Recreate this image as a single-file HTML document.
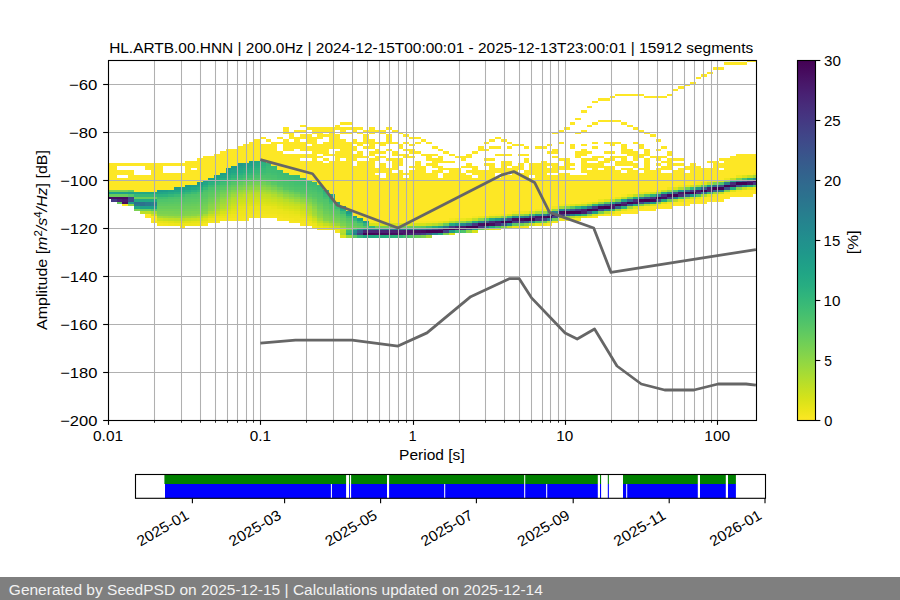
<!DOCTYPE html>
<html><head><meta charset="utf-8"><style>html,body{margin:0;padding:0;background:#fff;overflow:hidden}svg{display:block}</style></head><body>
<svg width="900" height="600" viewBox="0 0 900 600" font-family="&quot;Liberation Sans&quot;, sans-serif">
<rect width="900" height="600" fill="#fff"/>
<g shape-rendering="crispEdges"><path fill="#470d60" d="M108.0 196.8H110.9V199.2H108.0zM110.9 196.8H116.6V199.2H110.9zM116.6 196.8H122.3V199.2H116.6zM122.3 201.6H128.1V204.0H122.3zM122.3 196.8H128.1V199.2H122.3zM391.8 232.8H397.5V235.2H391.8zM477.8 223.2H483.5V225.6H477.8zM489.3 223.2H495.0V225.6H489.3zM661.2 196.8H667.0V199.2H661.2z"/><path fill="#67cc5c" d="M108.0 194.4H110.9V196.8H108.0zM110.9 194.4H116.6V196.8H110.9zM116.6 201.6H122.3V204.0H116.6zM116.6 194.4H122.3V196.8H116.6zM122.3 194.4H128.1V196.8H122.3zM128.1 189.6H133.8V192.0H128.1zM133.8 196.8H139.5V199.2H133.8zM139.5 208.8H145.3V211.2H139.5zM139.5 196.8H145.3V199.2H139.5zM145.3 208.8H151.0V211.2H145.3zM145.3 196.8H151.0V199.2H145.3zM151.0 196.8H156.7V199.2H151.0zM156.7 206.4H162.5V208.8H156.7zM162.5 206.4H168.2V208.8H162.5zM168.2 206.4H173.9V208.8H168.2zM173.9 206.4H179.7V208.8H173.9zM191.1 204.0H196.9V206.4H191.1zM265.7 182.4H271.4V184.8H265.7zM311.5 199.2H317.3V201.6H311.5zM317.3 204.0H323.0V206.4H317.3zM466.3 220.8H472.1V223.2H466.3z"/><path fill="#1fa188" d="M108.0 192.0H110.9V194.4H108.0zM110.9 192.0H116.6V194.4H110.9zM116.6 192.0H122.3V194.4H116.6zM122.3 192.0H128.1V194.4H122.3zM128.1 192.0H133.8V194.4H128.1zM139.5 206.4H145.3V208.8H139.5zM145.3 206.4H151.0V208.8H145.3zM151.0 206.4H156.7V208.8H151.0zM168.2 189.6H173.9V192.0H168.2z"/><path fill="#7ad151" d="M108.0 189.6H110.9V192.0H108.0zM110.9 189.6H116.6V192.0H110.9zM116.6 189.6H122.3V192.0H116.6zM122.3 189.6H128.1V192.0H122.3zM133.8 208.8H139.5V211.2H133.8zM156.7 211.2H162.5V213.6H156.7zM162.5 211.2H168.2V213.6H162.5zM168.2 211.2H173.9V213.6H168.2zM179.7 211.2H185.4V213.6H179.7zM208.3 201.6H214.1V204.0H208.3zM242.7 184.8H248.5V187.2H242.7zM420.5 235.2H426.2V237.6H420.5zM443.4 232.8H449.1V235.2H443.4z"/><path fill="#fde725" d="M108.0 163.2H110.9V189.6H108.0zM110.9 163.2H116.6V189.6H110.9zM116.6 177.6H122.3V189.6H116.6zM116.6 170.4H122.3V175.2H116.6zM116.6 163.2H122.3V165.6H116.6zM122.3 204.0H128.1V206.4H122.3zM122.3 177.6H128.1V189.6H122.3zM122.3 170.4H128.1V175.2H122.3zM122.3 163.2H128.1V165.6H122.3zM128.1 170.4H133.8V189.6H128.1zM128.1 163.2H133.8V165.6H128.1zM133.8 175.2H139.5V192.0H133.8zM133.8 163.2H139.5V165.6H133.8zM139.5 175.2H145.3V192.0H139.5zM139.5 163.2H145.3V165.6H139.5zM145.3 213.6H151.0V218.4H145.3zM145.3 175.2H151.0V192.0H145.3zM145.3 163.2H151.0V170.4H145.3zM151.0 216.0H156.7V220.8H151.0zM151.0 163.2H156.7V192.0H151.0zM156.7 163.2H162.5V189.6H156.7zM162.5 172.8H168.2V189.6H162.5zM162.5 163.2H168.2V165.6H162.5zM168.2 172.8H173.9V189.6H168.2zM168.2 163.2H173.9V165.6H168.2zM173.9 172.8H179.7V187.2H173.9zM173.9 163.2H179.7V165.6H173.9zM179.7 172.8H185.4V187.2H179.7zM179.7 163.2H185.4V165.6H179.7zM185.4 160.8H191.1V184.8H185.4zM191.1 170.4H196.9V184.8H191.1zM191.1 160.8H196.9V168.0H191.1zM196.9 158.4H202.6V182.4H196.9zM202.6 156.0H208.3V180.0H202.6zM208.3 156.0H214.1V177.6H208.3zM214.1 153.6H219.8V175.2H214.1zM219.8 151.2H225.5V172.8H219.8zM225.5 148.8H231.3V168.0H225.5zM231.3 148.8H237.0V165.6H231.3zM237.0 146.4H242.7V163.2H237.0zM242.7 144.0H248.5V163.2H242.7zM248.5 141.6H254.2V160.8H248.5zM254.2 139.2H259.9V160.8H254.2zM259.9 144.0H265.7V160.8H259.9zM259.9 136.8H265.7V139.2H259.9zM265.7 144.0H271.4V163.2H265.7zM265.7 139.2H271.4V141.6H265.7zM271.4 141.6H277.1V165.6H271.4zM277.1 151.2H282.9V170.4H277.1zM277.1 141.6H282.9V144.0H277.1zM277.1 136.8H282.9V139.2H277.1zM282.9 153.6H288.6V172.8H282.9zM282.9 139.2H288.6V151.2H282.9zM282.9 127.2H288.6V134.4H282.9zM288.6 153.6H294.3V175.2H288.6zM288.6 141.6H294.3V151.2H288.6zM288.6 132.0H294.3V139.2H288.6zM294.3 153.6H300.1V175.2H294.3zM294.3 136.8H300.1V148.8H294.3zM294.3 129.6H300.1V132.0H294.3zM300.1 160.8H305.8V177.6H300.1zM300.1 153.6H305.8V158.4H300.1zM300.1 141.6H305.8V151.2H300.1zM300.1 134.4H305.8V139.2H300.1zM300.1 129.6H305.8V132.0H300.1zM300.1 124.8H305.8V127.2H300.1zM305.8 160.8H311.5V180.0H305.8zM305.8 153.6H311.5V158.4H305.8zM305.8 146.4H311.5V151.2H305.8zM305.8 134.4H311.5V144.0H305.8zM305.8 127.2H311.5V129.6H305.8zM311.5 136.8H317.3V182.4H311.5zM311.5 127.2H317.3V134.4H311.5zM317.3 160.8H323.0V184.8H317.3zM317.3 156.0H323.0V158.4H317.3zM317.3 144.0H323.0V153.6H317.3zM317.3 127.2H323.0V139.2H317.3zM323.0 163.2H328.7V189.6H323.0zM323.0 158.4H328.7V160.8H323.0zM323.0 141.6H328.7V156.0H323.0zM323.0 134.4H328.7V136.8H323.0zM323.0 127.2H328.7V132.0H323.0zM328.7 160.8H334.5V194.4H328.7zM328.7 153.6H334.5V156.0H328.7zM328.7 127.2H334.5V148.8H328.7zM334.5 151.2H340.2V201.6H334.5zM334.5 134.4H340.2V148.8H334.5zM334.5 124.8H340.2V129.6H334.5zM340.2 160.8H345.9V206.4H340.2zM340.2 139.2H345.9V158.4H340.2zM340.2 127.2H345.9V134.4H340.2zM340.2 122.4H345.9V124.8H340.2zM345.9 141.6H351.7V211.2H345.9zM345.9 132.0H351.7V134.4H345.9zM345.9 127.2H351.7V129.6H345.9zM345.9 122.4H351.7V124.8H345.9zM351.7 165.6H357.4V216.0H351.7zM351.7 153.6H357.4V160.8H351.7zM351.7 146.4H357.4V151.2H351.7zM351.7 139.2H357.4V144.0H351.7zM351.7 127.2H357.4V132.0H351.7zM357.4 160.8H363.1V218.4H357.4zM357.4 151.2H363.1V158.4H357.4zM357.4 141.6H363.1V146.4H357.4zM357.4 132.0H363.1V134.4H357.4zM357.4 127.2H363.1V129.6H357.4zM363.1 160.8H368.9V220.8H363.1zM363.1 156.0H368.9V158.4H363.1zM363.1 146.4H368.9V148.8H363.1zM363.1 134.4H368.9V144.0H363.1zM363.1 129.6H368.9V132.0H363.1zM368.9 158.4H374.6V220.8H368.9zM368.9 151.2H374.6V156.0H368.9zM368.9 139.2H374.6V148.8H368.9zM368.9 127.2H374.6V134.4H368.9zM374.6 175.2H380.3V220.8H374.6zM374.6 168.0H380.3V172.8H374.6zM374.6 156.0H380.3V160.8H374.6zM374.6 148.8H380.3V153.6H374.6zM374.6 141.6H380.3V144.0H374.6zM374.6 129.6H380.3V132.0H374.6zM380.3 177.6H386.1V220.8H380.3zM380.3 163.2H386.1V172.8H380.3zM380.3 156.0H386.1V158.4H380.3zM380.3 151.2H386.1V153.6H380.3zM380.3 141.6H386.1V146.4H380.3zM380.3 129.6H386.1V134.4H380.3zM386.1 168.0H391.8V220.8H386.1zM386.1 158.4H391.8V160.8H386.1zM386.1 148.8H391.8V151.2H386.1zM386.1 134.4H391.8V144.0H386.1zM386.1 127.2H391.8V129.6H386.1zM391.8 172.8H397.5V223.2H391.8zM391.8 158.4H397.5V170.4H391.8zM391.8 151.2H397.5V156.0H391.8zM391.8 141.6H397.5V144.0H391.8zM391.8 129.6H397.5V132.0H391.8zM397.5 170.4H403.3V223.2H397.5zM397.5 158.4H403.3V165.6H397.5zM397.5 153.6H403.3V156.0H397.5zM397.5 144.0H403.3V148.8H397.5zM397.5 132.0H403.3V134.4H397.5zM403.3 177.6H409.0V223.2H403.3zM403.3 172.8H409.0V175.2H403.3zM403.3 153.6H409.0V158.4H403.3zM403.3 148.8H409.0V151.2H403.3zM403.3 141.6H409.0V144.0H403.3zM403.3 134.4H409.0V136.8H403.3zM409.0 170.4H414.7V223.2H409.0zM409.0 165.6H414.7V168.0H409.0zM409.0 156.0H414.7V158.4H409.0zM409.0 148.8H414.7V153.6H409.0zM409.0 144.0H414.7V146.4H409.0zM409.0 136.8H414.7V139.2H409.0zM414.7 160.8H420.5V220.8H414.7zM414.7 151.2H420.5V153.6H414.7zM414.7 141.6H420.5V144.0H414.7zM414.7 136.8H420.5V139.2H414.7zM420.5 165.6H426.2V220.8H420.5zM420.5 153.6H426.2V156.0H420.5zM420.5 139.2H426.2V141.6H420.5zM426.2 172.8H431.9V220.8H426.2zM426.2 163.2H431.9V165.6H426.2zM426.2 153.6H431.9V160.8H426.2zM426.2 141.6H431.9V144.0H426.2zM431.9 170.4H437.7V220.8H431.9zM431.9 158.4H437.7V168.0H431.9zM431.9 153.6H437.7V156.0H431.9zM431.9 146.4H437.7V148.8H431.9zM437.7 177.6H443.4V220.8H437.7zM437.7 165.6H443.4V172.8H437.7zM437.7 156.0H443.4V163.2H437.7zM437.7 148.8H443.4V151.2H437.7zM443.4 172.8H449.1V220.8H443.4zM443.4 168.0H449.1V170.4H443.4zM443.4 160.8H449.1V163.2H443.4zM443.4 151.2H449.1V153.6H443.4zM449.1 168.0H454.9V218.4H449.1zM449.1 160.8H454.9V163.2H449.1zM449.1 153.6H454.9V156.0H449.1zM454.9 168.0H460.6V218.4H454.9zM454.9 156.0H460.6V158.4H454.9zM460.6 172.8H466.3V218.4H460.6zM460.6 165.6H466.3V168.0H460.6zM460.6 156.0H466.3V160.8H460.6zM466.3 175.2H472.1V218.4H466.3zM466.3 170.4H472.1V172.8H466.3zM466.3 163.2H472.1V168.0H466.3zM466.3 153.6H472.1V158.4H466.3zM472.1 177.6H477.8V216.0H472.1zM472.1 165.6H477.8V175.2H472.1zM472.1 151.2H477.8V153.6H472.1zM477.8 170.4H483.5V216.0H477.8zM477.8 146.4H483.5V151.2H477.8zM483.5 170.4H489.3V216.0H483.5zM483.5 163.2H489.3V165.6H483.5zM483.5 158.4H489.3V160.8H483.5zM483.5 148.8H489.3V151.2H483.5zM483.5 141.6H489.3V144.0H483.5zM489.3 163.2H495.0V213.6H489.3zM489.3 158.4H495.0V160.8H489.3zM489.3 146.4H495.0V148.8H489.3zM489.3 139.2H495.0V141.6H489.3zM495.0 177.6H500.7V213.6H495.0zM495.0 168.0H500.7V172.8H495.0zM495.0 153.6H500.7V156.0H495.0zM495.0 146.4H500.7V148.8H495.0zM495.0 136.8H500.7V139.2H495.0zM500.7 160.8H506.5V213.6H500.7zM500.7 153.6H506.5V156.0H500.7zM500.7 139.2H506.5V141.6H500.7zM506.5 175.2H512.2V213.6H506.5zM506.5 168.0H512.2V172.8H506.5zM506.5 160.8H512.2V165.6H506.5zM506.5 153.6H512.2V156.0H506.5zM506.5 146.4H512.2V148.8H506.5zM506.5 141.6H512.2V144.0H506.5zM512.2 165.6H517.9V211.2H512.2zM512.2 144.0H517.9V146.4H512.2zM517.9 172.8H523.6V211.2H517.9zM517.9 163.2H523.6V170.4H517.9zM517.9 153.6H523.6V156.0H517.9zM517.9 144.0H523.6V146.4H517.9zM523.6 170.4H529.4V211.2H523.6zM523.6 158.4H529.4V163.2H523.6zM523.6 153.6H529.4V156.0H523.6zM523.6 146.4H529.4V148.8H523.6zM529.4 177.6H535.1V211.2H529.4zM529.4 163.2H535.1V175.2H529.4zM535.1 163.2H540.8V208.8H535.1zM535.1 146.4H540.8V148.8H535.1zM540.8 160.8H546.6V208.8H540.8zM540.8 146.4H546.6V148.8H540.8zM546.6 223.2H552.3V225.6H546.6zM546.6 175.2H552.3V208.8H546.6zM546.6 168.0H552.3V172.8H546.6zM546.6 163.2H552.3V165.6H546.6zM546.6 151.2H552.3V153.6H546.6zM546.6 144.0H552.3V146.4H546.6zM552.3 175.2H558.0V206.4H552.3zM552.3 163.2H558.0V172.8H552.3zM552.3 156.0H558.0V158.4H552.3zM552.3 148.8H558.0V153.6H552.3zM552.3 132.0H558.0V134.4H552.3zM558.0 172.8H563.8V204.0H558.0zM558.0 165.6H563.8V170.4H558.0zM558.0 158.4H563.8V160.8H558.0zM558.0 141.6H563.8V144.0H558.0zM558.0 129.6H563.8V132.0H558.0zM563.8 172.8H569.5V204.0H563.8zM563.8 158.4H569.5V170.4H563.8zM563.8 127.2H569.5V129.6H563.8zM569.5 218.4H575.2V220.8H569.5zM569.5 175.2H575.2V204.0H569.5zM569.5 168.0H575.2V170.4H569.5zM569.5 163.2H575.2V165.6H569.5zM569.5 144.0H575.2V148.8H569.5zM569.5 122.4H575.2V124.8H569.5zM575.2 218.4H581.0V220.8H575.2zM575.2 175.2H581.0V204.0H575.2zM575.2 151.2H581.0V158.4H575.2zM575.2 132.0H581.0V134.4H575.2zM575.2 117.6H581.0V120.0H575.2zM581.0 175.2H586.7V201.6H581.0zM581.0 158.4H586.7V172.8H581.0zM581.0 148.8H586.7V156.0H581.0zM581.0 144.0H586.7V146.4H581.0zM581.0 129.6H586.7V132.0H581.0zM581.0 110.4H586.7V112.8H581.0zM586.7 170.4H592.4V201.6H586.7zM586.7 163.2H592.4V168.0H586.7zM586.7 158.4H592.4V160.8H586.7zM586.7 151.2H592.4V153.6H586.7zM586.7 124.8H592.4V127.2H586.7zM586.7 105.6H592.4V108.0H586.7zM592.4 216.0H598.2V218.4H592.4zM592.4 163.2H598.2V201.6H592.4zM592.4 156.0H598.2V160.8H592.4zM592.4 146.4H598.2V148.8H592.4zM592.4 141.6H598.2V144.0H592.4zM592.4 122.4H598.2V124.8H592.4zM592.4 100.8H598.2V103.2H592.4zM598.2 170.4H603.9V199.2H598.2zM598.2 160.8H603.9V168.0H598.2zM598.2 156.0H603.9V158.4H598.2zM598.2 120.0H603.9V122.4H598.2zM598.2 98.4H603.9V100.8H598.2zM603.9 213.6H609.6V216.0H603.9zM603.9 165.6H609.6V199.2H603.9zM603.9 158.4H609.6V163.2H603.9zM603.9 151.2H609.6V153.6H603.9zM603.9 141.6H609.6V144.0H603.9zM603.9 120.0H609.6V122.4H603.9zM603.9 98.4H609.6V100.8H603.9zM609.6 213.6H615.4V216.0H609.6zM609.6 165.6H615.4V196.8H609.6zM609.6 156.0H615.4V160.8H609.6zM609.6 151.2H615.4V153.6H609.6zM609.6 141.6H615.4V146.4H609.6zM609.6 120.0H615.4V122.4H609.6zM609.6 96.0H615.4V98.4H609.6zM615.4 213.6H621.1V216.0H615.4zM615.4 170.4H621.1V196.8H615.4zM615.4 160.8H621.1V165.6H615.4zM615.4 156.0H621.1V158.4H615.4zM615.4 141.6H621.1V144.0H615.4zM615.4 120.0H621.1V122.4H615.4zM615.4 93.6H621.1V96.0H615.4zM621.1 211.2H626.8V213.6H621.1zM621.1 172.8H626.8V194.4H621.1zM621.1 168.0H626.8V170.4H621.1zM621.1 156.0H626.8V165.6H621.1zM621.1 144.0H626.8V153.6H621.1zM621.1 122.4H626.8V124.8H621.1zM621.1 93.6H626.8V96.0H621.1zM626.8 211.2H632.6V213.6H626.8zM626.8 168.0H632.6V194.4H626.8zM626.8 160.8H632.6V165.6H626.8zM626.8 148.8H632.6V156.0H626.8zM626.8 124.8H632.6V127.2H626.8zM626.8 93.6H632.6V96.0H626.8zM632.6 208.8H638.3V213.6H632.6zM632.6 170.4H638.3V194.4H632.6zM632.6 163.2H638.3V168.0H632.6zM632.6 151.2H638.3V160.8H632.6zM632.6 141.6H638.3V144.0H632.6zM632.6 127.2H638.3V129.6H632.6zM632.6 93.6H638.3V96.0H632.6zM638.3 208.8H644.0V211.2H638.3zM638.3 172.8H644.0V192.0H638.3zM638.3 168.0H644.0V170.4H638.3zM638.3 153.6H644.0V158.4H638.3zM638.3 144.0H644.0V148.8H638.3zM638.3 129.6H644.0V132.0H638.3zM638.3 93.6H644.0V96.0H638.3zM644.0 206.4H649.8V211.2H644.0zM644.0 158.4H649.8V192.0H644.0zM644.0 148.8H649.8V156.0H644.0zM644.0 132.0H649.8V134.4H644.0zM644.0 96.0H649.8V98.4H644.0zM649.8 206.4H655.5V211.2H649.8zM649.8 170.4H655.5V192.0H649.8zM649.8 156.0H655.5V158.4H649.8zM649.8 134.4H655.5V136.8H649.8zM649.8 96.0H655.5V98.4H649.8zM655.5 206.4H661.2V208.8H655.5zM655.5 168.0H661.2V189.6H655.5zM655.5 163.2H661.2V165.6H655.5zM655.5 156.0H661.2V160.8H655.5zM655.5 148.8H661.2V151.2H655.5zM655.5 139.2H661.2V141.6H655.5zM655.5 96.0H661.2V98.4H655.5zM661.2 204.0H667.0V208.8H661.2zM661.2 172.8H667.0V189.6H661.2zM661.2 165.6H667.0V170.4H661.2zM661.2 160.8H667.0V163.2H661.2zM661.2 156.0H667.0V158.4H661.2zM661.2 146.4H667.0V148.8H661.2zM661.2 96.0H667.0V98.4H661.2zM667.0 204.0H672.7V208.8H667.0zM667.0 172.8H672.7V187.2H667.0zM667.0 158.4H672.7V170.4H667.0zM667.0 151.2H672.7V156.0H667.0zM667.0 93.6H672.7V96.0H667.0zM672.7 201.6H678.4V206.4H672.7zM672.7 170.4H678.4V187.2H672.7zM672.7 163.2H678.4V165.6H672.7zM672.7 158.4H678.4V160.8H672.7zM672.7 88.8H678.4V91.2H672.7zM678.4 201.6H684.2V206.4H678.4zM678.4 168.0H684.2V184.8H678.4zM678.4 163.2H684.2V165.6H678.4zM678.4 158.4H684.2V160.8H678.4zM678.4 86.4H684.2V88.8H678.4zM684.2 201.6H689.9V206.4H684.2zM684.2 172.8H689.9V184.8H684.2zM684.2 165.6H689.9V170.4H684.2zM684.2 84.0H689.9V86.4H684.2zM689.9 199.2H695.6V204.0H689.9zM689.9 163.2H695.6V184.8H689.9zM689.9 81.6H695.6V84.0H689.9zM695.6 199.2H701.4V204.0H695.6zM695.6 165.6H701.4V182.4H695.6zM695.6 76.8H701.4V79.2H695.6zM701.4 196.8H707.1V204.0H701.4zM701.4 168.0H707.1V182.4H701.4zM701.4 74.4H707.1V76.8H701.4zM707.1 196.8H712.8V201.6H707.1zM707.1 168.0H712.8V180.0H707.1zM707.1 160.8H712.8V163.2H707.1zM707.1 72.0H712.8V74.4H707.1zM712.8 196.8H718.6V201.6H712.8zM712.8 160.8H718.6V180.0H712.8zM712.8 67.2H718.6V69.6H712.8zM718.6 194.4H724.3V201.6H718.6zM718.6 170.4H724.3V180.0H718.6zM718.6 163.2H724.3V168.0H718.6zM718.6 158.4H724.3V160.8H718.6zM718.6 67.2H724.3V69.6H718.6zM724.3 194.4H730.0V199.2H724.3zM724.3 158.4H730.0V177.6H724.3zM724.3 62.4H730.0V64.8H724.3zM730.0 192.0H735.8V196.8H730.0zM730.0 156.0H735.8V177.6H730.0zM730.0 62.4H735.8V64.8H730.0zM735.8 192.0H741.5V196.8H735.8zM735.8 153.6H741.5V175.2H735.8zM735.8 62.4H741.5V64.8H735.8zM741.5 189.6H747.2V196.8H741.5zM741.5 153.6H747.2V175.2H741.5zM741.5 62.4H747.2V64.8H741.5zM747.2 189.6H753.0V196.8H747.2zM747.2 153.6H753.0V175.2H747.2zM747.2 60.0H753.0V62.4H747.2zM753.0 189.6H756.0V194.4H753.0zM753.0 153.6H756.0V172.8H753.0zM753.0 60.0H756.0V62.4H753.0z"/><path fill="#443983" d="M110.9 199.2H116.6V201.6H110.9zM472.1 223.2H477.8V225.6H472.1zM512.2 220.8H517.9V223.2H512.2zM592.4 206.4H598.2V208.8H592.4zM649.8 196.8H655.5V199.2H649.8z"/><path fill="#482475" d="M116.6 199.2H122.3V201.6H116.6zM368.9 230.4H374.6V232.8H368.9zM609.6 204.0H615.4V206.4H609.6z"/><path fill="#481a6c" d="M122.3 199.2H128.1V201.6H122.3zM403.3 230.4H409.0V232.8H403.3zM495.0 220.8H500.7V223.2H495.0z"/><path fill="#90d743" d="M128.1 204.0H133.8V206.4H128.1zM196.9 213.6H202.6V216.0H196.9zM231.3 192.0H237.0V194.4H231.3zM237.0 189.6H242.7V192.0H237.0zM259.9 187.2H265.7V189.6H259.9zM282.9 194.4H288.6V196.8H282.9zM460.6 220.8H466.3V223.2H460.6zM466.3 230.4H472.1V232.8H466.3zM638.3 194.4H644.0V196.8H638.3z"/><path fill="#1f988b" d="M128.1 201.6H133.8V204.0H128.1zM225.5 168.0H231.3V170.4H225.5zM237.0 163.2H242.7V165.6H237.0zM363.1 220.8H368.9V223.2H363.1z"/><path fill="#3d4d8a" d="M128.1 199.2H133.8V201.6H128.1z"/><path fill="#414487" d="M128.1 196.8H133.8V199.2H128.1z"/><path fill="#54c568" d="M128.1 194.4H133.8V196.8H128.1zM151.0 208.8H156.7V211.2H151.0zM173.9 199.2H179.7V201.6H173.9zM179.7 199.2H185.4V201.6H179.7zM191.1 196.8H196.9V199.2H191.1zM231.3 182.4H237.0V184.8H231.3zM254.2 177.6H259.9V180.0H254.2zM259.9 177.6H265.7V180.0H259.9zM294.3 189.6H300.1V192.0H294.3zM311.5 194.4H317.3V196.8H311.5zM323.0 201.6H328.7V204.0H323.0zM328.7 206.4H334.5V208.8H328.7zM345.9 218.4H351.7V220.8H345.9zM357.4 223.2H363.1V225.6H357.4zM483.5 218.4H489.3V220.8H483.5z"/><path fill="#22a884" d="M133.8 206.4H139.5V208.8H133.8zM133.8 199.2H139.5V201.6H133.8zM133.8 192.0H139.5V194.4H133.8zM139.5 199.2H145.3V201.6H139.5zM139.5 192.0H145.3V194.4H139.5zM145.3 199.2H151.0V201.6H145.3zM145.3 192.0H151.0V194.4H145.3zM151.0 199.2H156.7V201.6H151.0zM151.0 192.0H156.7V194.4H151.0zM179.7 189.6H185.4V192.0H179.7zM191.1 187.2H196.9V189.6H191.1zM208.3 180.0H214.1V182.4H208.3z"/><path fill="#2a788e" d="M133.8 204.0H139.5V206.4H133.8zM145.3 201.6H151.0V206.4H145.3zM569.5 213.6H575.2V216.0H569.5z"/><path fill="#2d708e" d="M133.8 201.6H139.5V204.0H133.8zM139.5 201.6H145.3V206.4H139.5zM420.5 228.0H426.2V230.4H420.5z"/><path fill="#35b779" d="M133.8 194.4H139.5V196.8H133.8zM139.5 194.4H145.3V196.8H139.5zM145.3 194.4H151.0V196.8H145.3zM151.0 194.4H156.7V196.8H151.0zM185.4 192.0H191.1V194.4H185.4zM214.1 182.4H219.8V184.8H214.1zM237.0 175.2H242.7V177.6H237.0zM265.7 163.2H271.4V165.6H265.7zM357.4 220.8H363.1V223.2H357.4zM689.9 187.2H695.6V189.6H689.9z"/><path fill="#bddf26" d="M139.5 211.2H145.3V213.6H139.5zM145.3 211.2H151.0V213.6H145.3zM173.9 218.4H179.7V220.8H173.9zM242.7 194.4H248.5V196.8H242.7zM265.7 194.4H271.4V196.8H265.7zM288.6 201.6H294.3V204.0H288.6zM300.1 206.4H305.8V208.8H300.1zM317.3 220.8H323.0V223.2H317.3zM581.0 204.0H586.7V206.4H581.0zM603.9 211.2H609.6V213.6H603.9zM609.6 199.2H615.4V201.6H609.6zM718.6 192.0H724.3V194.4H718.6z"/><path fill="#f8e621" d="M151.0 220.8H156.7V223.2H151.0zM179.7 225.6H185.4V228.0H179.7zM202.6 223.2H208.3V225.6H202.6zM214.1 220.8H219.8V223.2H214.1zM242.7 218.4H248.5V220.8H242.7zM277.1 218.4H282.9V220.8H277.1zM300.1 223.2H305.8V225.6H300.1zM374.6 220.8H380.3V223.2H374.6zM380.3 220.8H386.1V223.2H380.3zM386.1 220.8H391.8V223.2H386.1zM414.7 220.8H420.5V223.2H414.7zM420.5 220.8H426.2V223.2H420.5zM489.3 213.6H495.0V216.0H489.3zM609.6 196.8H615.4V199.2H609.6zM615.4 211.2H621.1V213.6H615.4zM621.1 194.4H626.8V196.8H621.1zM626.8 208.8H632.6V211.2H626.8zM684.2 199.2H689.9V201.6H684.2z"/><path fill="#d2e21b" d="M151.0 213.6H156.7V216.0H151.0zM225.5 208.8H231.3V211.2H225.5zM237.0 201.6H242.7V204.0H237.0zM254.2 199.2H259.9V201.6H254.2zM259.9 199.2H265.7V201.6H259.9zM288.6 206.4H294.3V208.8H288.6zM575.2 204.0H581.0V206.4H575.2zM689.9 196.8H695.6V199.2H689.9zM689.9 184.8H695.6V187.2H689.9z"/><path fill="#a5db36" d="M151.0 211.2H156.7V213.6H151.0zM305.8 206.4H311.5V208.8H305.8zM311.5 213.6H317.3V216.0H311.5zM317.3 218.4H323.0V220.8H317.3zM426.2 235.2H431.9V237.6H426.2zM558.0 206.4H563.8V208.8H558.0z"/><path fill="#27808e" d="M151.0 201.6H156.7V206.4H151.0zM403.3 228.0H409.0V230.4H403.3zM598.2 204.0H603.9V206.4H598.2z"/><path fill="#f6e620" d="M156.7 223.2H162.5V225.6H156.7zM225.5 218.4H231.3V220.8H225.5zM231.3 218.4H237.0V220.8H231.3zM237.0 218.4H242.7V220.8H237.0zM248.5 216.0H254.2V218.4H248.5zM254.2 216.0H259.9V218.4H254.2zM259.9 216.0H265.7V218.4H259.9zM265.7 216.0H271.4V218.4H265.7zM271.4 216.0H277.1V218.4H271.4zM282.9 218.4H288.6V220.8H282.9zM288.6 220.8H294.3V223.2H288.6zM294.3 220.8H300.1V223.2H294.3zM334.5 230.4H340.2V232.8H334.5zM368.9 220.8H374.6V223.2H368.9zM426.2 220.8H431.9V223.2H426.2zM472.1 216.0H477.8V218.4H472.1zM495.0 213.6H500.7V216.0H495.0zM523.6 225.6H529.4V228.0H523.6zM535.1 208.8H540.8V211.2H535.1zM563.8 218.4H569.5V220.8H563.8zM581.0 201.6H586.7V204.0H581.0zM586.7 216.0H592.4V218.4H586.7zM678.4 184.8H684.2V187.2H678.4zM707.1 180.0H712.8V182.4H707.1zM712.8 194.4H718.6V196.8H712.8zM735.8 189.6H741.5V192.0H735.8z"/><path fill="#eae51a" d="M156.7 220.8H162.5V223.2H156.7zM225.5 213.6H231.3V216.0H225.5zM237.0 208.8H242.7V211.2H237.0zM248.5 206.4H254.2V208.8H248.5zM254.2 206.4H259.9V208.8H254.2zM259.9 206.4H265.7V208.8H259.9zM265.7 206.4H271.4V208.8H265.7zM277.1 208.8H282.9V211.2H277.1zM282.9 211.2H288.6V213.6H282.9zM294.3 213.6H300.1V216.0H294.3zM317.3 225.6H323.0V228.0H317.3zM495.0 228.0H500.7V230.4H495.0zM615.4 196.8H621.1V199.2H615.4zM684.2 184.8H689.9V187.2H684.2zM712.8 180.0H718.6V182.4H712.8z"/><path fill="#cde11d" d="M156.7 218.4H162.5V220.8H156.7zM196.9 218.4H202.6V220.8H196.9zM242.7 199.2H248.5V201.6H242.7zM277.1 201.6H282.9V204.0H277.1zM282.9 204.0H288.6V206.4H282.9zM294.3 206.4H300.1V208.8H294.3zM311.5 218.4H317.3V220.8H311.5zM529.4 223.2H535.1V225.6H529.4z"/><path fill="#a8db34" d="M156.7 216.0H162.5V218.4H156.7zM191.1 216.0H196.9V218.4H191.1zM202.6 213.6H208.3V216.0H202.6zM219.8 204.0H225.5V206.4H219.8zM225.5 199.2H231.3V201.6H225.5z"/><path fill="#84d44b" d="M156.7 213.6H162.5V216.0H156.7zM162.5 213.6H168.2V216.0H162.5zM185.4 213.6H191.1V216.0H185.4zM208.3 204.0H214.1V206.4H208.3zM254.2 184.8H259.9V187.2H254.2zM288.6 194.4H294.3V196.8H288.6zM323.0 218.4H328.7V220.8H323.0zM563.8 206.4H569.5V208.8H563.8zM586.7 204.0H592.4V206.4H586.7z"/><path fill="#70cf57" d="M156.7 208.8H162.5V211.2H156.7zM162.5 208.8H168.2V211.2H162.5zM168.2 208.8H173.9V211.2H168.2zM173.9 208.8H179.7V211.2H173.9zM179.7 208.8H185.4V211.2H179.7zM196.9 206.4H202.6V208.8H196.9zM202.6 204.0H208.3V206.4H202.6zM208.3 199.2H214.1V201.6H208.3zM219.8 192.0H225.5V194.4H219.8zM225.5 189.6H231.3V192.0H225.5zM231.3 187.2H237.0V189.6H231.3zM237.0 184.8H242.7V187.2H237.0zM259.9 182.4H265.7V184.8H259.9zM288.6 192.0H294.3V194.4H288.6zM311.5 201.6H317.3V204.0H311.5zM340.2 220.8H345.9V223.2H340.2zM386.1 225.6H391.8V228.0H386.1zM391.8 225.6H397.5V228.0H391.8z"/><path fill="#5ec962" d="M156.7 204.0H162.5V206.4H156.7zM162.5 204.0H168.2V206.4H162.5zM185.4 201.6H191.1V204.0H185.4zM288.6 189.6H294.3V192.0H288.6zM317.3 201.6H323.0V204.0H317.3zM323.0 206.4H328.7V208.8H323.0zM345.9 220.8H351.7V223.2H345.9zM351.7 223.2H357.4V225.6H351.7zM512.2 223.2H517.9V225.6H512.2zM569.5 206.4H575.2V208.8H569.5zM701.4 184.8H707.1V187.2H701.4z"/><path fill="#58c765" d="M156.7 201.6H162.5V204.0H156.7zM162.5 201.6H168.2V204.0H162.5zM168.2 201.6H173.9V204.0H168.2zM185.4 199.2H191.1V201.6H185.4zM219.8 187.2H225.5V189.6H219.8zM225.5 184.8H231.3V187.2H225.5zM265.7 180.0H271.4V182.4H265.7zM277.1 184.8H282.9V187.2H277.1zM282.9 187.2H288.6V189.6H282.9zM300.1 192.0H305.8V194.4H300.1zM323.0 204.0H328.7V206.4H323.0zM334.5 211.2H340.2V213.6H334.5zM420.5 225.6H426.2V228.0H420.5zM644.0 194.4H649.8V196.8H644.0z"/><path fill="#50c46a" d="M156.7 199.2H162.5V201.6H156.7zM162.5 199.2H168.2V201.6H162.5zM196.9 194.4H202.6V196.8H196.9zM214.1 187.2H219.8V189.6H214.1zM237.0 180.0H242.7V182.4H237.0zM248.5 177.6H254.2V180.0H248.5zM265.7 177.6H271.4V180.0H265.7zM271.4 180.0H277.1V182.4H271.4zM277.1 182.4H282.9V184.8H277.1zM282.9 184.8H288.6V187.2H282.9zM300.1 189.6H305.8V192.0H300.1zM311.5 192.0H317.3V194.4H311.5zM323.0 199.2H328.7V201.6H323.0zM328.7 204.0H334.5V206.4H328.7zM334.5 208.8H340.2V211.2H334.5zM603.9 201.6H609.6V204.0H603.9zM695.6 194.4H701.4V196.8H695.6zM718.6 182.4H724.3V184.8H718.6z"/><path fill="#42be71" d="M156.7 196.8H162.5V199.2H156.7zM248.5 175.2H254.2V177.6H248.5zM259.9 172.8H265.7V175.2H259.9zM271.4 172.8H277.1V175.2H271.4zM277.1 175.2H282.9V177.6H277.1zM282.9 177.6H288.6V180.0H282.9zM288.6 180.0H294.3V182.4H288.6zM305.8 184.8H311.5V187.2H305.8zM317.3 189.6H323.0V192.0H317.3zM345.9 216.0H351.7V218.4H345.9z"/><path fill="#2db27d" d="M156.7 194.4H162.5V196.8H156.7zM191.1 189.6H196.9V192.0H191.1zM248.5 170.4H254.2V172.8H248.5zM259.9 163.2H265.7V165.6H259.9zM621.1 206.4H626.8V208.8H621.1z"/><path fill="#21a585" d="M156.7 192.0H162.5V194.4H156.7zM231.3 170.4H237.0V172.8H231.3zM351.7 216.0H357.4V218.4H351.7z"/><path fill="#1f9a8a" d="M156.7 189.6H162.5V192.0H156.7zM173.9 187.2H179.7V189.6H173.9zM185.4 184.8H191.1V187.2H185.4zM196.9 182.4H202.6V184.8H196.9z"/><path fill="#f4e61e" d="M162.5 223.2H168.2V225.6H162.5zM208.3 220.8H214.1V223.2H208.3zM219.8 218.4H225.5V220.8H219.8zM237.0 216.0H242.7V218.4H237.0zM242.7 216.0H248.5V218.4H242.7zM248.5 213.6H254.2V216.0H248.5zM254.2 213.6H259.9V216.0H254.2zM259.9 213.6H265.7V216.0H259.9zM265.7 213.6H271.4V216.0H265.7zM271.4 213.6H277.1V216.0H271.4zM277.1 216.0H282.9V218.4H277.1zM288.6 218.4H294.3V220.8H288.6zM300.1 220.8H305.8V223.2H300.1zM305.8 223.2H311.5V225.6H305.8zM311.5 225.6H317.3V228.0H311.5zM431.9 220.8H437.7V223.2H431.9zM449.1 218.4H454.9V220.8H449.1zM512.2 211.2H517.9V213.6H512.2zM552.3 220.8H558.0V223.2H552.3zM558.0 204.0H563.8V206.4H558.0zM598.2 213.6H603.9V216.0H598.2zM638.3 206.4H644.0V208.8H638.3zM655.5 204.0H661.2V206.4H655.5zM695.6 182.4H701.4V184.8H695.6zM724.3 192.0H730.0V194.4H724.3zM753.0 172.8H756.0V175.2H753.0z"/><path fill="#e7e419" d="M162.5 220.8H168.2V223.2H162.5zM196.9 220.8H202.6V223.2H196.9zM214.1 216.0H219.8V218.4H214.1zM231.3 211.2H237.0V213.6H231.3zM242.7 206.4H248.5V208.8H242.7zM271.4 206.4H277.1V208.8H271.4zM288.6 211.2H294.3V213.6H288.6zM300.1 216.0H305.8V218.4H300.1zM334.5 228.0H340.2V230.4H334.5zM626.8 194.4H632.6V196.8H626.8zM707.1 194.4H712.8V196.8H707.1z"/><path fill="#c5e021" d="M162.5 218.4H168.2V220.8H162.5zM202.6 216.0H208.3V218.4H202.6zM208.3 213.6H214.1V216.0H208.3zM225.5 206.4H231.3V208.8H225.5zM242.7 196.8H248.5V199.2H242.7zM265.7 196.8H271.4V199.2H265.7zM282.9 201.6H288.6V204.0H282.9zM305.8 213.6H311.5V216.0H305.8zM334.5 225.6H340.2V228.0H334.5zM506.5 225.6H512.2V228.0H506.5zM632.6 194.4H638.3V196.8H632.6zM730.0 177.6H735.8V180.0H730.0zM747.2 175.2H753.0V177.6H747.2z"/><path fill="#a0da39" d="M162.5 216.0H168.2V218.4H162.5zM185.4 216.0H191.1V218.4H185.4zM231.3 194.4H237.0V196.8H231.3zM248.5 189.6H254.2V192.0H248.5zM271.4 192.0H277.1V194.4H271.4zM300.1 201.6H305.8V204.0H300.1zM437.7 223.2H443.4V225.6H437.7zM626.8 206.4H632.6V208.8H626.8z"/><path fill="#44bf70" d="M162.5 196.8H168.2V199.2H162.5zM294.3 182.4H300.1V184.8H294.3zM311.5 187.2H317.3V189.6H311.5zM323.0 196.8H328.7V199.2H323.0zM403.3 235.2H409.0V237.6H403.3z"/><path fill="#2eb37c" d="M162.5 194.4H168.2V196.8H162.5zM179.7 192.0H185.4V194.4H179.7zM231.3 175.2H237.0V177.6H231.3zM345.9 232.8H351.7V235.2H345.9z"/><path fill="#22a785" d="M162.5 192.0H168.2V194.4H162.5zM214.1 177.6H219.8V180.0H214.1zM248.5 165.6H254.2V168.0H248.5zM254.2 160.8H259.9V163.2H254.2z"/><path fill="#1e9c89" d="M162.5 189.6H168.2V192.0H162.5zM248.5 160.8H254.2V163.2H248.5zM345.9 211.2H351.7V213.6H345.9zM437.7 225.6H443.4V228.0H437.7z"/><path fill="#f1e51d" d="M168.2 223.2H173.9V225.6H168.2zM196.9 223.2H202.6V225.6H196.9zM231.3 216.0H237.0V218.4H231.3zM237.0 213.6H242.7V216.0H237.0zM242.7 213.6H248.5V216.0H242.7zM254.2 211.2H259.9V213.6H254.2zM259.9 211.2H265.7V213.6H259.9zM277.1 213.6H282.9V216.0H277.1zM282.9 216.0H288.6V218.4H282.9zM294.3 218.4H300.1V220.8H294.3zM317.3 228.0H323.0V230.4H317.3zM517.9 225.6H523.6V228.0H517.9zM517.9 211.2H523.6V213.6H517.9zM540.8 223.2H546.6V225.6H540.8zM540.8 208.8H546.6V211.2H540.8zM552.3 206.4H558.0V208.8H552.3zM667.0 201.6H672.7V204.0H667.0zM667.0 187.2H672.7V189.6H667.0z"/><path fill="#e2e418" d="M168.2 220.8H173.9V223.2H168.2zM219.8 213.6H225.5V216.0H219.8zM254.2 204.0H259.9V206.4H254.2zM259.9 204.0H265.7V206.4H259.9zM282.9 208.8H288.6V211.2H282.9zM294.3 211.2H300.1V213.6H294.3zM305.8 218.4H311.5V220.8H305.8zM323.0 225.6H328.7V228.0H323.0zM466.3 218.4H472.1V220.8H466.3zM569.5 204.0H575.2V206.4H569.5zM621.1 208.8H626.8V211.2H621.1zM644.0 192.0H649.8V194.4H644.0zM701.4 182.4H707.1V184.8H701.4z"/><path fill="#c0df25" d="M168.2 218.4H173.9V220.8H168.2zM231.3 201.6H237.0V204.0H231.3zM237.0 196.8H242.7V199.2H237.0zM248.5 194.4H254.2V196.8H248.5zM254.2 194.4H259.9V196.8H254.2zM259.9 194.4H265.7V196.8H259.9zM271.4 196.8H277.1V199.2H271.4zM472.1 218.4H477.8V220.8H472.1zM621.1 196.8H626.8V199.2H621.1z"/><path fill="#9dd93b" d="M168.2 216.0H173.9V218.4H168.2zM214.1 206.4H219.8V208.8H214.1zM219.8 201.6H225.5V204.0H219.8zM294.3 199.2H300.1V201.6H294.3zM311.5 211.2H317.3V213.6H311.5zM684.2 196.8H689.9V199.2H684.2z"/><path fill="#81d34d" d="M168.2 213.6H173.9V216.0H168.2zM173.9 213.6H179.7V216.0H173.9zM179.7 213.6H185.4V216.0H179.7zM214.1 199.2H219.8V201.6H214.1zM259.9 184.8H265.7V187.2H259.9zM317.3 211.2H323.0V213.6H317.3zM345.9 228.0H351.7V230.4H345.9zM500.7 225.6H506.5V228.0H500.7zM523.6 213.6H529.4V216.0H523.6zM724.3 189.6H730.0V192.0H724.3zM735.8 177.6H741.5V180.0H735.8z"/><path fill="#60ca60" d="M168.2 204.0H173.9V206.4H168.2zM173.9 204.0H179.7V206.4H173.9zM191.1 201.6H196.9V204.0H191.1zM208.3 194.4H214.1V196.8H208.3zM237.0 182.4H242.7V184.8H237.0zM248.5 180.0H254.2V182.4H248.5zM334.5 213.6H340.2V216.0H334.5zM414.7 225.6H420.5V228.0H414.7z"/><path fill="#52c569" d="M168.2 199.2H173.9V201.6H168.2zM185.4 196.8H191.1V199.2H185.4zM202.6 192.0H208.3V194.4H202.6zM208.3 189.6H214.1V192.0H208.3zM288.6 187.2H294.3V189.6H288.6zM305.8 192.0H311.5V194.4H305.8zM317.3 196.8H323.0V199.2H317.3zM340.2 213.6H345.9V216.0H340.2zM351.7 220.8H357.4V223.2H351.7zM546.6 211.2H552.3V213.6H546.6zM672.7 189.6H678.4V192.0H672.7z"/><path fill="#4ac16d" d="M168.2 196.8H173.9V199.2H168.2zM185.4 194.4H191.1V196.8H185.4zM202.6 189.6H208.3V192.0H202.6zM208.3 187.2H214.1V189.6H208.3zM225.5 182.4H231.3V184.8H225.5zM254.2 175.2H259.9V177.6H254.2zM265.7 175.2H271.4V177.6H265.7zM311.5 189.6H317.3V192.0H311.5zM535.1 220.8H540.8V223.2H535.1zM678.4 196.8H684.2V199.2H678.4zM741.5 177.6H747.2V180.0H741.5z"/><path fill="#34b679" d="M168.2 194.4H173.9V196.8H168.2zM196.9 189.6H202.6V192.0H196.9zM357.4 235.2H363.1V237.6H357.4zM397.5 235.2H403.3V237.6H397.5zM581.0 213.6H586.7V216.0H581.0z"/><path fill="#25ab82" d="M168.2 192.0H173.9V194.4H168.2zM254.2 163.2H259.9V165.6H254.2zM632.6 196.8H638.3V199.2H632.6zM730.0 180.0H735.8V182.4H730.0z"/><path fill="#efe51c" d="M173.9 223.2H179.7V225.6H173.9zM185.4 223.2H191.1V225.6H185.4zM191.1 223.2H196.9V225.6H191.1zM214.1 218.4H219.8V220.8H214.1zM225.5 216.0H231.3V218.4H225.5zM231.3 213.6H237.0V216.0H231.3zM237.0 211.2H242.7V213.6H237.0zM242.7 211.2H248.5V213.6H242.7zM248.5 211.2H254.2V213.6H248.5zM265.7 211.2H271.4V213.6H265.7zM271.4 211.2H277.1V213.6H271.4zM282.9 213.6H288.6V216.0H282.9zM288.6 216.0H294.3V218.4H288.6zM294.3 216.0H300.1V218.4H294.3zM300.1 218.4H305.8V220.8H300.1zM305.8 220.8H311.5V223.2H305.8zM323.0 228.0H328.7V230.4H323.0zM454.9 218.4H460.6V220.8H454.9zM500.7 213.6H506.5V216.0H500.7zM512.2 225.6H517.9V228.0H512.2zM558.0 218.4H563.8V220.8H558.0zM598.2 199.2H603.9V201.6H598.2zM638.3 192.0H644.0V194.4H638.3zM655.5 189.6H661.2V192.0H655.5zM724.3 177.6H730.0V180.0H724.3zM753.0 187.2H756.0V189.6H753.0z"/><path fill="#dae319" d="M173.9 220.8H179.7V223.2H173.9zM179.7 220.8H185.4V223.2H179.7zM208.3 216.0H214.1V218.4H208.3zM237.0 204.0H242.7V206.4H237.0zM254.2 201.6H259.9V204.0H254.2zM259.9 201.6H265.7V204.0H259.9zM340.2 235.2H345.9V237.6H340.2zM386.1 223.2H391.8V225.6H386.1zM391.8 223.2H397.5V225.6H391.8zM403.3 223.2H409.0V225.6H403.3zM506.5 213.6H512.2V216.0H506.5zM661.2 201.6H667.0V204.0H661.2z"/><path fill="#98d83e" d="M173.9 216.0H179.7V218.4H173.9zM334.5 223.2H340.2V225.6H334.5zM345.9 235.2H351.7V237.6H345.9zM667.0 189.6H672.7V192.0H667.0zM712.8 192.0H718.6V194.4H712.8z"/><path fill="#77d153" d="M173.9 211.2H179.7V213.6H173.9zM196.9 208.8H202.6V211.2H196.9zM202.6 206.4H208.3V208.8H202.6zM214.1 196.8H219.8V199.2H214.1zM265.7 184.8H271.4V187.2H265.7zM294.3 194.4H300.1V196.8H294.3zM305.8 199.2H311.5V201.6H305.8zM317.3 208.8H323.0V211.2H317.3zM345.9 225.6H351.7V228.0H345.9zM638.3 204.0H644.0V206.4H638.3zM712.8 182.4H718.6V184.8H712.8z"/><path fill="#5ac864" d="M173.9 201.6H179.7V204.0H173.9zM191.1 199.2H196.9V201.6H191.1zM208.3 192.0H214.1V194.4H208.3zM214.1 189.6H219.8V192.0H214.1zM242.7 180.0H248.5V182.4H242.7zM271.4 182.4H277.1V184.8H271.4zM340.2 216.0H345.9V218.4H340.2zM558.0 216.0H563.8V218.4H558.0z"/><path fill="#4cc26c" d="M173.9 196.8H179.7V199.2H173.9zM242.7 177.6H248.5V180.0H242.7zM259.9 175.2H265.7V177.6H259.9zM271.4 177.6H277.1V180.0H271.4zM277.1 180.0H282.9V182.4H277.1zM282.9 182.4H288.6V184.8H282.9zM288.6 184.8H294.3V187.2H288.6zM300.1 187.2H305.8V189.6H300.1z"/><path fill="#3aba76" d="M173.9 194.4H179.7V196.8H173.9zM208.3 184.8H214.1V187.2H208.3zM231.3 177.6H237.0V180.0H231.3zM265.7 165.6H271.4V168.0H265.7zM282.9 172.8H288.6V175.2H282.9zM300.1 177.6H305.8V180.0H300.1zM305.8 180.0H311.5V182.4H305.8zM317.3 184.8H323.0V187.2H317.3zM323.0 194.4H328.7V196.8H323.0zM454.9 230.4H460.6V232.8H454.9z"/><path fill="#28ae80" d="M173.9 192.0H179.7V194.4H173.9zM219.8 177.6H225.5V180.0H219.8zM259.9 160.8H265.7V163.2H259.9zM380.3 235.2H386.1V237.6H380.3zM431.9 225.6H437.7V228.0H431.9z"/><path fill="#20a486" d="M173.9 189.6H179.7V192.0H173.9zM237.0 168.0H242.7V170.4H237.0z"/><path fill="#ece51b" d="M179.7 223.2H185.4V225.6H179.7zM202.6 220.8H208.3V223.2H202.6zM208.3 218.4H214.1V220.8H208.3zM219.8 216.0H225.5V218.4H219.8zM242.7 208.8H248.5V211.2H242.7zM248.5 208.8H254.2V211.2H248.5zM254.2 208.8H259.9V211.2H254.2zM259.9 208.8H265.7V211.2H259.9zM265.7 208.8H271.4V211.2H265.7zM271.4 208.8H277.1V211.2H271.4zM277.1 211.2H282.9V213.6H277.1zM288.6 213.6H294.3V216.0H288.6zM311.5 223.2H317.3V225.6H311.5zM328.7 228.0H334.5V230.4H328.7zM437.7 220.8H443.4V223.2H437.7zM460.6 218.4H466.3V220.8H460.6zM477.8 216.0H483.5V218.4H477.8zM523.6 211.2H529.4V213.6H523.6zM535.1 223.2H540.8V225.6H535.1zM563.8 204.0H569.5V206.4H563.8zM586.7 201.6H592.4V204.0H586.7zM678.4 199.2H684.2V201.6H678.4zM695.6 196.8H701.4V199.2H695.6zM735.8 175.2H741.5V177.6H735.8z"/><path fill="#bade28" d="M179.7 218.4H185.4V220.8H179.7zM546.6 220.8H552.3V223.2H546.6zM672.7 199.2H678.4V201.6H672.7z"/><path fill="#9bd93c" d="M179.7 216.0H185.4V218.4H179.7zM225.5 196.8H231.3V199.2H225.5zM242.7 189.6H248.5V192.0H242.7zM265.7 189.6H271.4V192.0H265.7zM340.2 225.6H345.9V228.0H340.2zM454.9 220.8H460.6V223.2H454.9zM517.9 213.6H523.6V216.0H517.9zM540.8 211.2H546.6V213.6H540.8zM615.4 208.8H621.1V211.2H615.4z"/><path fill="#69cd5b" d="M179.7 206.4H185.4V208.8H179.7zM196.9 204.0H202.6V206.4H196.9zM202.6 201.6H208.3V204.0H202.6zM208.3 196.8H214.1V199.2H208.3zM242.7 182.4H248.5V184.8H242.7zM300.1 194.4H305.8V196.8H300.1zM305.8 196.8H311.5V199.2H305.8zM334.5 216.0H340.2V218.4H334.5zM345.9 223.2H351.7V225.6H345.9zM414.7 235.2H420.5V237.6H414.7zM443.4 223.2H449.1V225.6H443.4zM477.8 228.0H483.5V230.4H477.8zM540.8 220.8H546.6V223.2H540.8z"/><path fill="#63cb5f" d="M179.7 204.0H185.4V206.4H179.7zM196.9 201.6H202.6V204.0H196.9zM202.6 199.2H208.3V201.6H202.6zM214.1 192.0H219.8V194.4H214.1zM231.3 184.8H237.0V187.2H231.3zM259.9 180.0H265.7V182.4H259.9zM328.7 211.2H334.5V213.6H328.7zM357.4 225.6H363.1V228.0H357.4z"/><path fill="#5cc863" d="M179.7 201.6H185.4V204.0H179.7zM196.9 199.2H202.6V201.6H196.9zM202.6 196.8H208.3V199.2H202.6zM305.8 194.4H311.5V196.8H305.8zM311.5 196.8H317.3V199.2H311.5zM328.7 208.8H334.5V211.2H328.7zM351.7 235.2H357.4V237.6H351.7zM753.0 184.8H756.0V187.2H753.0z"/><path fill="#4ec36b" d="M179.7 196.8H185.4V199.2H179.7zM191.1 194.4H196.9V196.8H191.1zM219.8 184.8H225.5V187.2H219.8zM294.3 187.2H300.1V189.6H294.3zM305.8 189.6H311.5V192.0H305.8zM317.3 194.4H323.0V196.8H317.3zM460.6 230.4H466.3V232.8H460.6z"/><path fill="#40bd72" d="M179.7 194.4H185.4V196.8H179.7zM219.8 182.4H225.5V184.8H219.8zM237.0 177.6H242.7V180.0H237.0zM265.7 170.4H271.4V172.8H265.7zM300.1 182.4H305.8V184.8H300.1zM311.5 184.8H317.3V187.2H311.5zM328.7 201.6H334.5V204.0H328.7zM426.2 225.6H431.9V228.0H426.2z"/><path fill="#1f9f88" d="M179.7 187.2H185.4V189.6H179.7zM191.1 184.8H196.9V187.2H191.1zM219.8 172.8H225.5V175.2H219.8zM237.0 165.6H242.7V168.0H237.0zM357.4 228.0H363.1V230.4H357.4zM357.4 218.4H363.1V220.8H357.4z"/><path fill="#dfe318" d="M185.4 220.8H191.1V223.2H185.4zM202.6 218.4H208.3V220.8H202.6zM225.5 211.2H231.3V213.6H225.5zM231.3 208.8H237.0V211.2H231.3zM242.7 204.0H248.5V206.4H242.7zM248.5 204.0H254.2V206.4H248.5zM265.7 204.0H271.4V206.4H265.7zM277.1 206.4H282.9V208.8H277.1zM300.1 213.6H305.8V216.0H300.1zM546.6 208.8H552.3V211.2H546.6zM603.9 199.2H609.6V201.6H603.9zM672.7 187.2H678.4V189.6H672.7zM718.6 180.0H724.3V182.4H718.6zM747.2 187.2H753.0V189.6H747.2z"/><path fill="#c2df23" d="M185.4 218.4H191.1V220.8H185.4zM214.1 211.2H219.8V213.6H214.1zM219.8 208.8H225.5V211.2H219.8zM277.1 199.2H282.9V201.6H277.1zM294.3 204.0H300.1V206.4H294.3zM323.0 223.2H328.7V225.6H323.0zM489.3 216.0H495.0V218.4H489.3zM741.5 187.2H747.2V189.6H741.5z"/><path fill="#7cd250" d="M185.4 211.2H191.1V213.6H185.4zM219.8 194.4H225.5V196.8H219.8zM271.4 187.2H277.1V189.6H271.4zM277.1 189.6H282.9V192.0H277.1zM282.9 192.0H288.6V194.4H282.9zM300.1 196.8H305.8V199.2H300.1zM311.5 204.0H317.3V206.4H311.5zM323.0 216.0H328.7V218.4H323.0zM328.7 218.4H334.5V220.8H328.7zM340.2 223.2H345.9V225.6H340.2z"/><path fill="#73d056" d="M185.4 208.8H191.1V211.2H185.4zM254.2 182.4H259.9V184.8H254.2zM334.5 218.4H340.2V220.8H334.5zM397.5 225.6H403.3V228.0H397.5zM552.3 218.4H558.0V220.8H552.3zM615.4 199.2H621.1V201.6H615.4zM684.2 187.2H689.9V189.6H684.2z"/><path fill="#6ccd5a" d="M185.4 206.4H191.1V208.8H185.4zM214.1 194.4H219.8V196.8H214.1zM271.4 184.8H277.1V187.2H271.4zM277.1 187.2H282.9V189.6H277.1zM282.9 189.6H288.6V192.0H282.9zM323.0 211.2H328.7V213.6H323.0zM328.7 213.6H334.5V216.0H328.7zM403.3 225.6H409.0V228.0H403.3zM517.9 223.2H523.6V225.6H517.9z"/><path fill="#65cb5e" d="M185.4 204.0H191.1V206.4H185.4zM219.8 189.6H225.5V192.0H219.8zM225.5 187.2H231.3V189.6H225.5zM254.2 180.0H259.9V182.4H254.2zM294.3 192.0H300.1V194.4H294.3zM323.0 208.8H328.7V211.2H323.0zM340.2 218.4H345.9V220.8H340.2zM409.0 225.6H414.7V228.0H409.0z"/><path fill="#26ad81" d="M185.4 189.6H191.1V192.0H185.4zM196.9 187.2H202.6V189.6H196.9zM225.5 175.2H231.3V177.6H225.5zM248.5 168.0H254.2V170.4H248.5zM340.2 208.8H345.9V211.2H340.2zM345.9 213.6H351.7V216.0H345.9z"/><path fill="#20a386" d="M185.4 187.2H191.1V189.6H185.4zM196.9 184.8H202.6V187.2H196.9zM242.7 165.6H248.5V168.0H242.7zM334.5 201.6H340.2V204.0H334.5z"/><path fill="#e5e419" d="M191.1 220.8H196.9V223.2H191.1zM237.0 206.4H242.7V208.8H237.0zM581.0 216.0H586.7V218.4H581.0zM609.6 211.2H615.4V213.6H609.6z"/><path fill="#c8e020" d="M191.1 218.4H196.9V220.8H191.1zM248.5 196.8H254.2V199.2H248.5zM259.9 196.8H265.7V199.2H259.9zM288.6 204.0H294.3V206.4H288.6zM300.1 208.8H305.8V211.2H300.1zM426.2 223.2H431.9V225.6H426.2zM661.2 189.6H667.0V192.0H661.2z"/><path fill="#89d548" d="M191.1 213.6H196.9V216.0H191.1zM219.8 196.8H225.5V199.2H219.8zM242.7 187.2H248.5V189.6H242.7zM265.7 187.2H271.4V189.6H265.7zM311.5 206.4H317.3V208.8H311.5zM317.3 213.6H323.0V216.0H317.3zM563.8 216.0H569.5V218.4H563.8zM586.7 213.6H592.4V216.0H586.7zM724.3 180.0H730.0V182.4H724.3z"/><path fill="#7fd34e" d="M191.1 211.2H196.9V213.6H191.1zM196.9 211.2H202.6V213.6H196.9zM202.6 208.8H208.3V211.2H202.6zM225.5 192.0H231.3V194.4H225.5zM231.3 189.6H237.0V192.0H231.3zM237.0 187.2H242.7V189.6H237.0zM248.5 184.8H254.2V187.2H248.5zM334.5 220.8H340.2V223.2H334.5zM655.5 201.6H661.2V204.0H655.5z"/><path fill="#75d054" d="M191.1 208.8H196.9V211.2H191.1zM323.0 213.6H328.7V216.0H323.0zM328.7 216.0H334.5V218.4H328.7zM598.2 211.2H603.9V213.6H598.2z"/><path fill="#6ece58" d="M191.1 206.4H196.9V208.8H191.1zM248.5 182.4H254.2V184.8H248.5zM317.3 206.4H323.0V208.8H317.3zM351.7 225.6H357.4V228.0H351.7zM374.6 225.6H380.3V228.0H374.6zM380.3 225.6H386.1V228.0H380.3zM626.8 196.8H632.6V199.2H626.8zM667.0 199.2H672.7V201.6H667.0z"/><path fill="#3dbc74" d="M191.1 192.0H196.9V194.4H191.1zM225.5 180.0H231.3V182.4H225.5zM242.7 175.2H248.5V177.6H242.7zM265.7 168.0H271.4V170.4H265.7zM300.1 180.0H305.8V182.4H300.1zM317.3 187.2H323.0V189.6H317.3zM334.5 206.4H340.2V208.8H334.5zM351.7 228.0H357.4V230.4H351.7z"/><path fill="#b0dd2f" d="M196.9 216.0H202.6V218.4H196.9zM219.8 206.4H225.5V208.8H219.8zM225.5 201.6H231.3V204.0H225.5zM231.3 196.8H237.0V199.2H231.3zM248.5 192.0H254.2V194.4H248.5zM495.0 216.0H500.7V218.4H495.0zM569.5 216.0H575.2V218.4H569.5zM678.4 187.2H684.2V189.6H678.4z"/><path fill="#56c667" d="M196.9 196.8H202.6V199.2H196.9zM202.6 194.4H208.3V196.8H202.6zM317.3 199.2H323.0V201.6H317.3zM363.1 225.6H368.9V228.0H363.1zM409.0 235.2H414.7V237.6H409.0z"/><path fill="#46c06f" d="M196.9 192.0H202.6V194.4H196.9zM214.1 184.8H219.8V187.2H214.1zM231.3 180.0H237.0V182.4H231.3zM265.7 172.8H271.4V175.2H265.7zM277.1 177.6H282.9V180.0H277.1zM282.9 180.0H288.6V182.4H282.9zM300.1 184.8H305.8V187.2H300.1zM495.0 225.6H500.7V228.0H495.0zM506.5 216.0H512.2V218.4H506.5z"/><path fill="#8bd646" d="M202.6 211.2H208.3V213.6H202.6zM208.3 206.4H214.1V208.8H208.3zM214.1 201.6H219.8V204.0H214.1zM225.5 194.4H231.3V196.8H225.5zM294.3 196.8H300.1V199.2H294.3zM500.7 216.0H506.5V218.4H500.7zM655.5 192.0H661.2V194.4H655.5zM735.8 187.2H741.5V189.6H735.8z"/><path fill="#38b977" d="M202.6 187.2H208.3V189.6H202.6zM271.4 165.6H277.1V168.0H271.4zM294.3 175.2H300.1V177.6H294.3zM351.7 218.4H357.4V220.8H351.7zM529.4 213.6H535.1V216.0H529.4z"/><path fill="#29af7f" d="M202.6 184.8H208.3V187.2H202.6zM214.1 180.0H219.8V182.4H214.1zM242.7 170.4H248.5V172.8H242.7zM254.2 165.6H259.9V168.0H254.2zM334.5 204.0H340.2V206.4H334.5z"/><path fill="#21a685" d="M202.6 182.4H208.3V184.8H202.6zM219.8 175.2H225.5V177.6H219.8zM225.5 172.8H231.3V175.2H225.5zM328.7 194.4H334.5V196.8H328.7zM363.1 235.2H368.9V237.6H363.1zM621.1 199.2H626.8V201.6H621.1z"/><path fill="#1f9e89" d="M202.6 180.0H208.3V182.4H202.6zM242.7 163.2H248.5V165.6H242.7zM340.2 206.4H345.9V208.8H340.2zM472.1 228.0H477.8V230.4H472.1zM707.1 184.8H712.8V187.2H707.1z"/><path fill="#aadc32" d="M208.3 211.2H214.1V213.6H208.3zM242.7 192.0H248.5V194.4H242.7zM265.7 192.0H271.4V194.4H265.7zM288.6 199.2H294.3V201.6H288.6zM695.6 184.8H701.4V187.2H695.6z"/><path fill="#93d741" d="M208.3 208.8H214.1V211.2H208.3zM254.2 187.2H259.9V189.6H254.2zM317.3 216.0H323.0V218.4H317.3zM598.2 201.6H603.9V204.0H598.2z"/><path fill="#2cb17e" d="M208.3 182.4H214.1V184.8H208.3zM323.0 189.6H328.7V192.0H323.0zM386.1 235.2H391.8V237.6H386.1z"/><path fill="#1fa088" d="M208.3 177.6H214.1V180.0H208.3zM214.1 175.2H219.8V177.6H214.1zM225.5 170.4H231.3V172.8H225.5zM231.3 168.0H237.0V170.4H231.3zM592.4 211.2H598.2V213.6H592.4zM649.8 201.6H655.5V204.0H649.8z"/><path fill="#d5e21a" d="M214.1 213.6H219.8V216.0H214.1zM219.8 211.2H225.5V213.6H219.8zM231.3 206.4H237.0V208.8H231.3zM242.7 201.6H248.5V204.0H242.7zM271.4 201.6H277.1V204.0H271.4zM277.1 204.0H282.9V206.4H277.1zM300.1 211.2H305.8V213.6H300.1zM317.3 223.2H323.0V225.6H317.3zM328.7 225.6H334.5V228.0H328.7zM368.9 223.2H374.6V225.6H368.9zM414.7 223.2H420.5V225.6H414.7zM420.5 223.2H426.2V225.6H420.5zM529.4 211.2H535.1V213.6H529.4zM592.4 213.6H598.2V216.0H592.4zM649.8 204.0H655.5V206.4H649.8z"/><path fill="#addc30" d="M214.1 208.8H219.8V211.2H214.1zM305.8 208.8H311.5V211.2H305.8zM340.2 232.8H345.9V235.2H340.2zM535.1 211.2H540.8V213.6H535.1z"/><path fill="#95d840" d="M214.1 204.0H219.8V206.4H214.1zM219.8 199.2H225.5V201.6H219.8zM288.6 196.8H294.3V199.2H288.6zM305.8 204.0H311.5V206.4H305.8zM311.5 208.8H317.3V211.2H311.5zM552.3 208.8H558.0V211.2H552.3z"/><path fill="#32b67a" d="M219.8 180.0H225.5V182.4H219.8zM242.7 172.8H248.5V175.2H242.7zM323.0 192.0H328.7V194.4H323.0zM328.7 199.2H334.5V201.6H328.7zM368.9 225.6H374.6V228.0H368.9zM609.6 208.8H615.4V211.2H609.6z"/><path fill="#b8de29" d="M225.5 204.0H231.3V206.4H225.5zM231.3 199.2H237.0V201.6H231.3zM282.9 199.2H288.6V201.6H282.9zM305.8 211.2H311.5V213.6H305.8zM311.5 216.0H317.3V218.4H311.5zM340.2 230.4H345.9V232.8H340.2zM431.9 223.2H437.7V225.6H431.9zM644.0 204.0H649.8V206.4H644.0zM707.1 182.4H712.8V184.8H707.1z"/><path fill="#2fb47c" d="M225.5 177.6H231.3V180.0H225.5zM254.2 168.0H259.9V170.4H254.2zM391.8 235.2H397.5V237.6H391.8zM592.4 204.0H598.2V206.4H592.4zM649.8 194.4H655.5V196.8H649.8z"/><path fill="#cae11f" d="M231.3 204.0H237.0V206.4H231.3zM237.0 199.2H242.7V201.6H237.0zM254.2 196.8H259.9V199.2H254.2zM271.4 199.2H277.1V201.6H271.4zM340.2 228.0H345.9V230.4H340.2z"/><path fill="#25ac82" d="M231.3 172.8H237.0V175.2H231.3zM374.6 235.2H380.3V237.6H374.6zM632.6 204.0H638.3V206.4H632.6zM730.0 187.2H735.8V189.6H730.0z"/><path fill="#1f998a" d="M231.3 165.6H237.0V168.0H231.3zM449.1 230.4H454.9V232.8H449.1zM575.2 213.6H581.0V216.0H575.2z"/><path fill="#b2dd2d" d="M237.0 194.4H242.7V196.8H237.0zM259.9 192.0H265.7V194.4H259.9zM271.4 194.4H277.1V196.8H271.4zM294.3 201.6H300.1V204.0H294.3zM328.7 223.2H334.5V225.6H328.7zM483.5 228.0H489.3V230.4H483.5zM701.4 194.4H707.1V196.8H701.4z"/><path fill="#a2da37" d="M237.0 192.0H242.7V194.4H237.0zM254.2 189.6H259.9V192.0H254.2zM259.9 189.6H265.7V192.0H259.9zM277.1 194.4H282.9V196.8H277.1zM282.9 196.8H288.6V199.2H282.9zM323.0 220.8H328.7V223.2H323.0zM512.2 213.6H517.9V216.0H512.2zM753.0 175.2H756.0V177.6H753.0z"/><path fill="#2ab07f" d="M237.0 172.8H242.7V175.2H237.0z"/><path fill="#24aa83" d="M237.0 170.4H242.7V172.8H237.0zM489.3 225.6H495.0V228.0H489.3zM489.3 218.4H495.0V220.8H489.3zM747.2 177.6H753.0V180.0H747.2z"/><path fill="#23a983" d="M242.7 168.0H248.5V170.4H242.7zM368.9 235.2H374.6V237.6H368.9zM437.7 232.8H443.4V235.2H437.7zM449.1 223.2H454.9V225.6H449.1zM661.2 199.2H667.0V201.6H661.2z"/><path fill="#d8e219" d="M248.5 201.6H254.2V204.0H248.5zM265.7 201.6H271.4V204.0H265.7zM282.9 206.4H288.6V208.8H282.9zM294.3 208.8H300.1V211.2H294.3zM305.8 216.0H311.5V218.4H305.8zM374.6 223.2H380.3V225.6H374.6zM380.3 223.2H386.1V225.6H380.3zM409.0 223.2H414.7V225.6H409.0zM449.1 232.8H454.9V235.2H449.1zM472.1 230.4H477.8V232.8H472.1z"/><path fill="#d0e11c" d="M248.5 199.2H254.2V201.6H248.5zM265.7 199.2H271.4V201.6H265.7zM575.2 216.0H581.0V218.4H575.2zM592.4 201.6H598.2V204.0H592.4zM649.8 192.0H655.5V194.4H649.8z"/><path fill="#8ed645" d="M248.5 187.2H254.2V189.6H248.5zM271.4 189.6H277.1V192.0H271.4zM277.1 192.0H282.9V194.4H277.1zM300.1 199.2H305.8V201.6H300.1zM328.7 220.8H334.5V223.2H328.7zM477.8 218.4H483.5V220.8H477.8zM523.6 223.2H529.4V225.6H523.6z"/><path fill="#37b878" d="M248.5 172.8H254.2V175.2H248.5zM254.2 170.4H259.9V172.8H254.2zM259.9 168.0H265.7V170.4H259.9zM575.2 206.4H581.0V208.8H575.2z"/><path fill="#1fa187" d="M248.5 163.2H254.2V165.6H248.5zM581.0 206.4H586.7V208.8H581.0z"/><path fill="#b5de2b" d="M254.2 192.0H259.9V194.4H254.2zM277.1 196.8H282.9V199.2H277.1zM300.1 204.0H305.8V206.4H300.1zM449.1 220.8H454.9V223.2H449.1z"/><path fill="#3fbc73" d="M254.2 172.8H259.9V175.2H254.2zM271.4 170.4H277.1V172.8H271.4zM277.1 172.8H282.9V175.2H277.1zM282.9 175.2H288.6V177.6H282.9zM288.6 177.6H294.3V180.0H288.6zM294.3 180.0H300.1V182.4H294.3zM305.8 182.4H311.5V184.8H305.8zM340.2 211.2H345.9V213.6H340.2zM345.9 230.4H351.7V232.8H345.9z"/><path fill="#3bbb75" d="M259.9 170.4H265.7V172.8H259.9zM271.4 168.0H277.1V170.4H271.4zM277.1 170.4H282.9V172.8H277.1zM288.6 175.2H294.3V177.6H288.6zM294.3 177.6H300.1V180.0H294.3zM311.5 182.4H317.3V184.8H311.5zM707.1 192.0H712.8V194.4H707.1z"/><path fill="#31b57b" d="M259.9 165.6H265.7V168.0H259.9zM363.1 223.2H368.9V225.6H363.1z"/><path fill="#dde318" d="M271.4 204.0H277.1V206.4H271.4zM288.6 208.8H294.3V211.2H288.6zM311.5 220.8H317.3V223.2H311.5zM397.5 223.2H403.3V225.6H397.5zM443.4 220.8H449.1V223.2H443.4zM483.5 216.0H489.3V218.4H483.5zM489.3 228.0H495.0V230.4H489.3zM632.6 206.4H638.3V208.8H632.6zM730.0 189.6H735.8V192.0H730.0zM741.5 175.2H747.2V177.6H741.5z"/><path fill="#48c16e" d="M271.4 175.2H277.1V177.6H271.4zM288.6 182.4H294.3V184.8H288.6zM294.3 184.8H300.1V187.2H294.3zM305.8 187.2H311.5V189.6H305.8zM317.3 192.0H323.0V194.4H317.3z"/><path fill="#86d549" d="M305.8 201.6H311.5V204.0H305.8z"/><path fill="#27ad81" d="M328.7 196.8H334.5V199.2H328.7zM472.1 220.8H477.8V223.2H472.1zM661.2 192.0H667.0V194.4H661.2zM747.2 184.8H753.0V187.2H747.2z"/><path fill="#287c8e" d="M351.7 232.8H357.4V235.2H351.7zM655.5 194.4H661.2V196.8H655.5z"/><path fill="#228c8d" d="M351.7 230.4H357.4V232.8H351.7zM512.2 216.0H517.9V218.4H512.2z"/><path fill="#424086" d="M357.4 232.8H363.1V235.2H357.4zM443.4 230.4H449.1V232.8H443.4z"/><path fill="#38598c" d="M357.4 230.4H363.1V232.8H357.4zM563.8 213.6H569.5V216.0H563.8zM586.7 211.2H592.4V213.6H586.7z"/><path fill="#440256" d="M363.1 232.8H368.9V235.2H363.1zM500.7 220.8H506.5V223.2H500.7zM575.2 211.2H581.0V213.6H575.2zM655.5 196.8H661.2V199.2H655.5zM689.9 192.0H695.6V194.4H689.9zM724.3 184.8H730.0V187.2H724.3z"/><path fill="#482576" d="M363.1 230.4H368.9V232.8H363.1zM409.0 232.8H414.7V235.2H409.0zM460.6 228.0H466.3V230.4H460.6z"/><path fill="#25858e" d="M363.1 228.0H368.9V230.4H363.1zM368.9 228.0H374.6V230.4H368.9zM374.6 228.0H380.3V230.4H374.6zM380.3 228.0H386.1V230.4H380.3zM386.1 228.0H391.8V230.4H386.1zM391.8 228.0H397.5V230.4H391.8zM431.9 232.8H437.7V235.2H431.9zM517.9 216.0H523.6V218.4H517.9z"/><path fill="#450457" d="M368.9 232.8H374.6V235.2H368.9zM437.7 230.4H443.4V232.8H437.7z"/><path fill="#46075a" d="M374.6 232.8H380.3V235.2H374.6zM552.3 213.6H558.0V216.0H552.3zM592.4 208.8H598.2V211.2H592.4zM649.8 199.2H655.5V201.6H649.8z"/><path fill="#482374" d="M374.6 230.4H380.3V232.8H374.6zM380.3 230.4H386.1V232.8H380.3zM581.0 208.8H586.7V211.2H581.0z"/><path fill="#46085c" d="M380.3 232.8H386.1V235.2H380.3zM667.0 194.4H672.7V196.8H667.0z"/><path fill="#460b5e" d="M386.1 232.8H391.8V235.2H386.1z"/><path fill="#482173" d="M386.1 230.4H391.8V232.8H386.1zM454.9 225.6H460.6V228.0H454.9zM707.1 189.6H712.8V192.0H707.1z"/><path fill="#482071" d="M391.8 230.4H397.5V232.8H391.8z"/><path fill="#471063" d="M397.5 232.8H403.3V235.2H397.5zM558.0 211.2H563.8V213.6H558.0zM632.6 201.6H638.3V204.0H632.6zM753.0 180.0H756.0V182.4H753.0z"/><path fill="#481f70" d="M397.5 230.4H403.3V232.8H397.5zM707.1 187.2H712.8V189.6H707.1z"/><path fill="#25848e" d="M397.5 228.0H403.3V230.4H397.5z"/><path fill="#481b6d" d="M403.3 232.8H409.0V235.2H403.3zM609.6 206.4H615.4V208.8H609.6z"/><path fill="#481467" d="M409.0 230.4H414.7V232.8H409.0z"/><path fill="#297a8e" d="M409.0 228.0H414.7V230.4H409.0zM500.7 218.4H506.5V220.8H500.7z"/><path fill="#46327e" d="M414.7 232.8H420.5V235.2H414.7z"/><path fill="#470e61" d="M414.7 230.4H420.5V232.8H414.7zM512.2 218.4H517.9V220.8H512.2z"/><path fill="#2b758e" d="M414.7 228.0H420.5V230.4H414.7zM443.4 225.6H449.1V228.0H443.4zM563.8 208.8H569.5V211.2H563.8zM586.7 206.4H592.4V208.8H586.7zM735.8 180.0H741.5V182.4H735.8z"/><path fill="#433e85" d="M420.5 232.8H426.2V235.2H420.5zM689.9 189.6H695.6V192.0H689.9z"/><path fill="#460a5d" d="M420.5 230.4H426.2V232.8H420.5zM443.4 228.0H449.1V230.4H443.4zM517.9 218.4H523.6V220.8H517.9zM540.8 216.0H546.6V218.4H540.8z"/><path fill="#355f8d" d="M426.2 232.8H431.9V235.2H426.2zM426.2 228.0H431.9V230.4H426.2z"/><path fill="#440154" d="M426.2 230.4H431.9V232.8H426.2zM431.9 230.4H437.7V232.8H431.9zM449.1 228.0H454.9V230.4H449.1zM466.3 225.6H472.1V228.0H466.3zM472.1 225.6H477.8V228.0H472.1zM483.5 223.2H489.3V225.6H483.5zM506.5 220.8H512.2V223.2H506.5zM523.6 218.4H529.4V220.8H523.6zM529.4 218.4H535.1V220.8H529.4zM546.6 216.0H552.3V218.4H546.6zM563.8 211.2H569.5V213.6H563.8zM569.5 211.2H575.2V213.6H569.5zM586.7 208.8H592.4V211.2H586.7zM603.9 206.4H609.6V208.8H603.9zM615.4 204.0H621.1V206.4H615.4zM626.8 201.6H632.6V204.0H626.8zM644.0 199.2H649.8V201.6H644.0zM672.7 194.4H678.4V196.8H672.7zM684.2 192.0H689.9V194.4H684.2zM701.4 189.6H707.1V192.0H701.4zM712.8 187.2H718.6V189.6H712.8zM718.6 187.2H724.3V189.6H718.6zM735.8 182.4H741.5V184.8H735.8zM741.5 182.4H747.2V184.8H741.5z"/><path fill="#3f4788" d="M431.9 228.0H437.7V230.4H431.9zM552.3 216.0H558.0V218.4H552.3z"/><path fill="#472e7c" d="M437.7 228.0H443.4V230.4H437.7zM632.6 199.2H638.3V201.6H632.6z"/><path fill="#443b84" d="M449.1 225.6H454.9V228.0H449.1zM477.8 225.6H483.5V228.0H477.8z"/><path fill="#481769" d="M454.9 228.0H460.6V230.4H454.9zM535.1 216.0H540.8V218.4H535.1zM621.1 204.0H626.8V206.4H621.1zM678.4 192.0H684.2V194.4H678.4z"/><path fill="#20938c" d="M454.9 223.2H460.6V225.6H454.9zM695.6 187.2H701.4V189.6H695.6z"/><path fill="#48186a" d="M460.6 225.6H466.3V228.0H460.6z"/><path fill="#228b8d" d="M460.6 223.2H466.3V225.6H460.6z"/><path fill="#38588c" d="M466.3 228.0H472.1V230.4H466.3zM644.0 196.8H649.8V199.2H644.0z"/><path fill="#2e6e8e" d="M466.3 223.2H472.1V225.6H466.3zM712.8 184.8H718.6V187.2H712.8z"/><path fill="#26828e" d="M477.8 220.8H483.5V223.2H477.8zM546.6 218.4H552.3V220.8H546.6zM552.3 211.2H558.0V213.6H552.3zM672.7 196.8H678.4V199.2H672.7z"/><path fill="#2a778e" d="M483.5 225.6H489.3V228.0H483.5z"/><path fill="#375b8d" d="M483.5 220.8H489.3V223.2H483.5zM523.6 220.8H529.4V223.2H523.6z"/><path fill="#472f7d" d="M489.3 220.8H495.0V223.2H489.3zM695.6 192.0H701.4V194.4H695.6z"/><path fill="#482878" d="M495.0 223.2H500.7V225.6H495.0zM621.1 201.6H626.8V204.0H621.1z"/><path fill="#1f978b" d="M495.0 218.4H500.7V220.8H495.0zM529.4 220.8H535.1V223.2H529.4z"/><path fill="#3b528b" d="M500.7 223.2H506.5V225.6H500.7zM603.9 204.0H609.6V206.4H603.9z"/><path fill="#228d8d" d="M506.5 223.2H512.2V225.6H506.5zM753.0 177.6H756.0V180.0H753.0z"/><path fill="#3e4a89" d="M506.5 218.4H512.2V220.8H506.5zM598.2 208.8H603.9V211.2H598.2z"/><path fill="#414287" d="M517.9 220.8H523.6V223.2H517.9z"/><path fill="#2c738e" d="M523.6 216.0H529.4V218.4H523.6z"/><path fill="#424186" d="M529.4 216.0H535.1V218.4H529.4zM540.8 218.4H546.6V220.8H540.8z"/><path fill="#472c7a" d="M535.1 218.4H540.8V220.8H535.1zM678.4 194.4H684.2V196.8H678.4zM747.2 180.0H753.0V182.4H747.2z"/><path fill="#1f958b" d="M535.1 213.6H540.8V216.0H535.1z"/><path fill="#24868e" d="M540.8 213.6H546.6V216.0H540.8z"/><path fill="#3a548c" d="M546.6 213.6H552.3V216.0H546.6z"/><path fill="#453781" d="M558.0 213.6H563.8V216.0H558.0z"/><path fill="#218e8d" d="M558.0 208.8H563.8V211.2H558.0z"/><path fill="#365d8d" d="M569.5 208.8H575.2V211.2H569.5z"/><path fill="#423f85" d="M575.2 208.8H581.0V211.2H575.2z"/><path fill="#481c6e" d="M581.0 211.2H586.7V213.6H581.0z"/><path fill="#450559" d="M598.2 206.4H603.9V208.8H598.2zM638.3 199.2H644.0V201.6H638.3z"/><path fill="#25838e" d="M603.9 208.8H609.6V211.2H603.9zM667.0 192.0H672.7V194.4H667.0zM718.6 189.6H724.3V192.0H718.6z"/><path fill="#1fa287" d="M609.6 201.6H615.4V204.0H609.6z"/><path fill="#31678e" d="M615.4 206.4H621.1V208.8H615.4z"/><path fill="#2f6b8e" d="M615.4 201.6H621.1V204.0H615.4zM626.8 204.0H632.6V206.4H626.8z"/><path fill="#31688e" d="M626.8 199.2H632.6V201.6H626.8zM684.2 194.4H689.9V196.8H684.2z"/><path fill="#3e4c8a" d="M638.3 201.6H644.0V204.0H638.3z"/><path fill="#277f8e" d="M638.3 196.8H644.0V199.2H638.3z"/><path fill="#277e8e" d="M644.0 201.6H649.8V204.0H644.0z"/><path fill="#3c508b" d="M655.5 199.2H661.2V201.6H655.5z"/><path fill="#46307e" d="M661.2 194.4H667.0V196.8H661.2z"/><path fill="#404588" d="M667.0 196.8H672.7V199.2H667.0z"/><path fill="#3a538b" d="M672.7 192.0H678.4V194.4H672.7zM718.6 184.8H724.3V187.2H718.6zM724.3 187.2H730.0V189.6H724.3z"/><path fill="#1f968b" d="M678.4 189.6H684.2V192.0H678.4z"/><path fill="#306a8e" d="M684.2 189.6H689.9V192.0H684.2z"/><path fill="#1e9b8a" d="M689.9 194.4H695.6V196.8H689.9z"/><path fill="#481668" d="M695.6 189.6H701.4V192.0H695.6z"/><path fill="#29798e" d="M701.4 192.0H707.1V194.4H701.4zM724.3 182.4H730.0V184.8H724.3z"/><path fill="#365c8d" d="M701.4 187.2H707.1V189.6H701.4z"/><path fill="#33638d" d="M712.8 189.6H718.6V192.0H712.8z"/><path fill="#471164" d="M730.0 184.8H735.8V187.2H730.0zM747.2 182.4H753.0V184.8H747.2z"/><path fill="#472d7b" d="M730.0 182.4H735.8V184.8H730.0z"/><path fill="#375a8c" d="M735.8 184.8H741.5V187.2H735.8z"/><path fill="#23898e" d="M741.5 184.8H747.2V187.2H741.5z"/><path fill="#3d4e8a" d="M741.5 180.0H747.2V182.4H741.5z"/><path fill="#453882" d="M753.0 182.4H756.0V184.8H753.0z"/></g>
<path d="M154.50 60.0V420.0M181.50 60.0V420.0M200.50 60.0V420.0M215.50 60.0V420.0M227.50 60.0V420.0M237.50 60.0V420.0M246.50 60.0V420.0M253.50 60.0V420.0M260.50 60.0V420.0M306.50 60.0V420.0M333.50 60.0V420.0M352.50 60.0V420.0M367.50 60.0V420.0M379.50 60.0V420.0M389.50 60.0V420.0M398.50 60.0V420.0M406.50 60.0V420.0M413.50 60.0V420.0M459.50 60.0V420.0M485.50 60.0V420.0M504.50 60.0V420.0M519.50 60.0V420.0M531.50 60.0V420.0M542.50 60.0V420.0M550.50 60.0V420.0M558.50 60.0V420.0M565.50 60.0V420.0M611.50 60.0V420.0M638.50 60.0V420.0M657.50 60.0V420.0M672.50 60.0V420.0M684.50 60.0V420.0M694.50 60.0V420.0M703.50 60.0V420.0M711.50 60.0V420.0M717.50 60.0V420.0M108.0 372.50H756.0M108.0 324.50H756.0M108.0 276.50H756.0M108.0 228.50H756.0M108.0 180.50H756.0M108.0 132.50H756.0M108.0 84.50H756.0" stroke="#b0b0b0" stroke-width="1.05" fill="none"/>
<polyline points="260.37,159.60 312.55,173.76 337.34,205.20 397.98,228.00 501.09,175.20 513.73,171.60 534.54,182.40 549.52,212.40 593.69,228.00 610.98,272.40 755.88,249.55" stroke="#666" stroke-width="2.78" fill="none" stroke-linejoin="round"/>
<polyline points="260.37,343.20 295.49,340.08 352.11,340.08 397.98,346.08 426.98,332.88 470.68,296.64 509.27,278.64 519.25,278.64 531.31,297.60 565.12,333.00 577.18,339.00 594.54,329.04 616.99,366.00 641.25,384.00 664.65,390.00 693.89,390.00 718.15,384.00 746.06,384.00 755.88,385.15" stroke="#666" stroke-width="2.78" fill="none" stroke-linejoin="round"/>
<rect x="108.5" y="60.5" width="648.0" height="360.0" fill="none" stroke="#000" stroke-width="1.11"/>
<path d="M108.50 420.0v4.86" stroke="#000" stroke-width="1.11"/>
<path d="M154.50 420.0v2.78" stroke="#000" stroke-width="0.83"/>
<path d="M181.50 420.0v2.78" stroke="#000" stroke-width="0.83"/>
<path d="M200.50 420.0v2.78" stroke="#000" stroke-width="0.83"/>
<path d="M215.50 420.0v2.78" stroke="#000" stroke-width="0.83"/>
<path d="M227.50 420.0v2.78" stroke="#000" stroke-width="0.83"/>
<path d="M237.50 420.0v2.78" stroke="#000" stroke-width="0.83"/>
<path d="M246.50 420.0v2.78" stroke="#000" stroke-width="0.83"/>
<path d="M253.50 420.0v2.78" stroke="#000" stroke-width="0.83"/>
<path d="M260.50 420.0v4.86" stroke="#000" stroke-width="1.11"/>
<path d="M306.50 420.0v2.78" stroke="#000" stroke-width="0.83"/>
<path d="M333.50 420.0v2.78" stroke="#000" stroke-width="0.83"/>
<path d="M352.50 420.0v2.78" stroke="#000" stroke-width="0.83"/>
<path d="M367.50 420.0v2.78" stroke="#000" stroke-width="0.83"/>
<path d="M379.50 420.0v2.78" stroke="#000" stroke-width="0.83"/>
<path d="M389.50 420.0v2.78" stroke="#000" stroke-width="0.83"/>
<path d="M398.50 420.0v2.78" stroke="#000" stroke-width="0.83"/>
<path d="M406.50 420.0v2.78" stroke="#000" stroke-width="0.83"/>
<path d="M413.50 420.0v4.86" stroke="#000" stroke-width="1.11"/>
<path d="M459.50 420.0v2.78" stroke="#000" stroke-width="0.83"/>
<path d="M485.50 420.0v2.78" stroke="#000" stroke-width="0.83"/>
<path d="M504.50 420.0v2.78" stroke="#000" stroke-width="0.83"/>
<path d="M519.50 420.0v2.78" stroke="#000" stroke-width="0.83"/>
<path d="M531.50 420.0v2.78" stroke="#000" stroke-width="0.83"/>
<path d="M542.50 420.0v2.78" stroke="#000" stroke-width="0.83"/>
<path d="M550.50 420.0v2.78" stroke="#000" stroke-width="0.83"/>
<path d="M558.50 420.0v2.78" stroke="#000" stroke-width="0.83"/>
<path d="M565.50 420.0v4.86" stroke="#000" stroke-width="1.11"/>
<path d="M611.50 420.0v2.78" stroke="#000" stroke-width="0.83"/>
<path d="M638.50 420.0v2.78" stroke="#000" stroke-width="0.83"/>
<path d="M657.50 420.0v2.78" stroke="#000" stroke-width="0.83"/>
<path d="M672.50 420.0v2.78" stroke="#000" stroke-width="0.83"/>
<path d="M684.50 420.0v2.78" stroke="#000" stroke-width="0.83"/>
<path d="M694.50 420.0v2.78" stroke="#000" stroke-width="0.83"/>
<path d="M703.50 420.0v2.78" stroke="#000" stroke-width="0.83"/>
<path d="M711.50 420.0v2.78" stroke="#000" stroke-width="0.83"/>
<path d="M717.50 420.0v4.86" stroke="#000" stroke-width="1.11"/>
<path d="M108.0 420.50h-4.86" stroke="#000" stroke-width="1.11"/>
<path d="M108.0 372.50h-4.86" stroke="#000" stroke-width="1.11"/>
<path d="M108.0 324.50h-4.86" stroke="#000" stroke-width="1.11"/>
<path d="M108.0 276.50h-4.86" stroke="#000" stroke-width="1.11"/>
<path d="M108.0 228.50h-4.86" stroke="#000" stroke-width="1.11"/>
<path d="M108.0 180.50h-4.86" stroke="#000" stroke-width="1.11"/>
<path d="M108.0 132.50h-4.86" stroke="#000" stroke-width="1.11"/>
<path d="M108.0 84.50h-4.86" stroke="#000" stroke-width="1.11"/>
<text transform="translate(60.23,425.60) scale(1.1225,1)" font-size="14.72" fill="#000">−200</text>
<text transform="translate(60.23,377.60) scale(1.1225,1)" font-size="14.72" fill="#000">−180</text>
<text transform="translate(60.23,329.60) scale(1.1225,1)" font-size="14.72" fill="#000">−160</text>
<text transform="translate(60.23,281.60) scale(1.1225,1)" font-size="14.72" fill="#000">−140</text>
<text transform="translate(60.23,233.60) scale(1.1225,1)" font-size="14.72" fill="#000">−120</text>
<text transform="translate(60.23,185.60) scale(1.1225,1)" font-size="14.72" fill="#000">−100</text>
<text transform="translate(69.05,137.60) scale(1.1374,1)" font-size="14.72" fill="#000">−80</text>
<text transform="translate(69.05,89.60) scale(1.1374,1)" font-size="14.72" fill="#000">−60</text>
<text transform="translate(93.03,440.60) scale(1.0502,1)" font-size="14.72" fill="#000">0.01</text>
<text transform="translate(249.83,440.60) scale(1.0377,1)" font-size="14.72" fill="#000">0.1</text>
<text transform="translate(408.66,440.60) scale(0.9501,1)" font-size="14.72" fill="#000">1</text>
<text transform="translate(556.34,440.60) scale(1.0376,1)" font-size="14.72" fill="#000">10</text>
<text transform="translate(704.27,440.60) scale(1.0526,1)" font-size="14.72" fill="#000">100</text>
<text transform="translate(399.11,459.60) scale(1.0553,1)" font-size="14.72" fill="#000">Period [s]</text>
<text transform="translate(109.13,52.80) scale(1.0489,1)" font-size="14.72" fill="#000">HL.ARTB.00.HNN | 200.0Hz | 2024-12-15T00:00:01 - 2025-12-13T23:00:01 | 15912 segments</text>
<g transform="translate(46.6,240) rotate(-90)"><text x="0" y="0" text-anchor="middle" font-size="14.7" textLength="180" lengthAdjust="spacingAndGlyphs">Amplitude [<tspan font-style="italic">m</tspan><tspan font-size="10.5" dy="-5">2</tspan><tspan dy="5" font-style="italic">/s</tspan><tspan font-size="10.5" dy="-5">4</tspan><tspan dy="5" font-style="italic">/Hz</tspan>] [dB]</text></g>
<defs><linearGradient id="cb" x1="0" y1="0" x2="0" y2="1"><stop offset="0.0000" stop-color="#440154"/><stop offset="0.0312" stop-color="#460b5e"/><stop offset="0.0625" stop-color="#481769"/><stop offset="0.0938" stop-color="#482173"/><stop offset="0.1250" stop-color="#472c7a"/><stop offset="0.1562" stop-color="#453581"/><stop offset="0.1875" stop-color="#423f85"/><stop offset="0.2188" stop-color="#3f4889"/><stop offset="0.2500" stop-color="#3b518b"/><stop offset="0.2812" stop-color="#375a8c"/><stop offset="0.3125" stop-color="#33628d"/><stop offset="0.3438" stop-color="#306a8e"/><stop offset="0.3750" stop-color="#2c718e"/><stop offset="0.4062" stop-color="#29798e"/><stop offset="0.4375" stop-color="#26818e"/><stop offset="0.4688" stop-color="#23888e"/><stop offset="0.5000" stop-color="#21908d"/><stop offset="0.5312" stop-color="#1f978b"/><stop offset="0.5625" stop-color="#1f9f88"/><stop offset="0.5938" stop-color="#21a685"/><stop offset="0.6250" stop-color="#27ad81"/><stop offset="0.6562" stop-color="#31b57b"/><stop offset="0.6875" stop-color="#3dbc74"/><stop offset="0.7188" stop-color="#4cc26c"/><stop offset="0.7500" stop-color="#5cc863"/><stop offset="0.7812" stop-color="#6ece58"/><stop offset="0.8125" stop-color="#81d34d"/><stop offset="0.8438" stop-color="#95d840"/><stop offset="0.8750" stop-color="#aadc32"/><stop offset="0.9062" stop-color="#c0df25"/><stop offset="0.9375" stop-color="#d5e21a"/><stop offset="0.9688" stop-color="#eae51a"/><stop offset="1.0000" stop-color="#fde725"/></linearGradient></defs>
<rect x="797.5" y="60.5" width="18" height="360" fill="url(#cb)" stroke="#000" stroke-width="1.11"/>
<path d="M815.5 420.50h4.86" stroke="#000" stroke-width="1.11"/>
<text transform="translate(824.13,425.60) scale(0.9948,1)" font-size="14.72" fill="#000">0</text>
<path d="M815.5 360.50h4.86" stroke="#000" stroke-width="1.11"/>
<text transform="translate(824.15,365.60) scale(0.9386,1)" font-size="14.72" fill="#000">5</text>
<path d="M815.5 300.50h4.86" stroke="#000" stroke-width="1.11"/>
<text transform="translate(823.54,305.60) scale(1.0376,1)" font-size="14.72" fill="#000">10</text>
<path d="M815.5 240.50h4.86" stroke="#000" stroke-width="1.11"/>
<text transform="translate(823.55,245.60) scale(1.0207,1)" font-size="14.72" fill="#000">15</text>
<path d="M815.5 180.50h4.86" stroke="#000" stroke-width="1.11"/>
<text transform="translate(823.93,185.60) scale(1.0450,1)" font-size="14.72" fill="#000">20</text>
<path d="M815.5 120.50h4.86" stroke="#000" stroke-width="1.11"/>
<text transform="translate(823.94,125.60) scale(1.0285,1)" font-size="14.72" fill="#000">25</text>
<path d="M815.5 60.50h4.86" stroke="#000" stroke-width="1.11"/>
<text transform="translate(824.12,65.60) scale(1.0300,1)" font-size="14.72" fill="#000">30</text>
<g transform="translate(858.00,242.30) rotate(-90)"><text transform="translate(-12.01,0.00) scale(1.1293,1)" font-size="14.72" fill="#000">[%]</text></g>
<rect x="164.4" y="474.6" width="571.5" height="9.4" fill="#008000"/>
<rect x="165" y="484" width="570.9" height="14.2" fill="#0000ff"/>
<rect x="346.1" y="474" width="3.00" height="25" fill="#fff"/>
<rect x="350" y="474" width="1.10" height="25" fill="#fff"/>
<rect x="387" y="474" width="2.10" height="25" fill="#fff"/>
<rect x="524.2" y="474" width="1.00" height="25" fill="#fff"/>
<rect x="597.8" y="474" width="2.20" height="25" fill="#fff"/>
<rect x="601.1" y="474" width="6.70" height="25" fill="#fff"/>
<rect x="608.9" y="474" width="14.10" height="25" fill="#fff"/>
<rect x="697.8" y="474" width="2.20" height="25" fill="#fff"/>
<rect x="725.8" y="474" width="2.20" height="25" fill="#fff"/>
<rect x="330.9" y="484" width="1" height="14.2" fill="#fff"/>
<rect x="444.2" y="484" width="1" height="14.2" fill="#fff"/>
<rect x="546.2" y="484" width="1" height="14.2" fill="#fff"/>
<rect x="626.2" y="484" width="1" height="14.2" fill="#fff"/>
<rect x="135.5" y="474.5" width="630" height="23.8" fill="none" stroke="#000" stroke-width="1.11"/>
<path d="M192.4 498.3v4.86" stroke="#000" stroke-width="1.11"/>
<g transform="translate(189.50,518.50) rotate(-30)"><text transform="translate(-56.52,0.00) scale(1.0604,1)" font-size="14.72" fill="#000">2025-01</text></g>
<path d="M284.6 498.3v4.86" stroke="#000" stroke-width="1.11"/>
<g transform="translate(281.70,518.50) rotate(-30)"><text transform="translate(-56.69,0.00) scale(1.0621,1)" font-size="14.72" fill="#000">2025-03</text></g>
<path d="M380.6 498.3v4.86" stroke="#000" stroke-width="1.11"/>
<g transform="translate(377.70,518.50) rotate(-30)"><text transform="translate(-56.59,0.00) scale(1.0596,1)" font-size="14.72" fill="#000">2025-05</text></g>
<path d="M476.4 498.3v4.86" stroke="#000" stroke-width="1.11"/>
<g transform="translate(473.50,518.50) rotate(-30)"><text transform="translate(-56.62,0.00) scale(1.0626,1)" font-size="14.72" fill="#000">2025-07</text></g>
<path d="M573.2 498.3v4.86" stroke="#000" stroke-width="1.11"/>
<g transform="translate(570.30,518.50) rotate(-30)"><text transform="translate(-56.83,0.00) scale(1.0658,1)" font-size="14.72" fill="#000">2025-09</text></g>
<path d="M669.2 498.3v4.86" stroke="#000" stroke-width="1.11"/>
<g transform="translate(666.30,518.50) rotate(-30)"><text transform="translate(-56.54,0.00) scale(1.0827,1)" font-size="14.72" fill="#000">2025-11</text></g>
<path d="M765.0 498.3v4.86" stroke="#000" stroke-width="1.11"/>
<g transform="translate(762.10,518.50) rotate(-30)"><text transform="translate(-56.52,0.00) scale(1.0604,1)" font-size="14.72" fill="#000">2026-01</text></g>
<rect x="0" y="577" width="900" height="23" fill="#7f7f7f"/>
<text transform="translate(8.82,595.00) scale(1.0537,1)" font-size="14.72" fill="#f2f2f2">Generated by SeedPSD on 2025-12-15 | Calculations updated on 2025-12-14</text>
</svg>
</body></html>
